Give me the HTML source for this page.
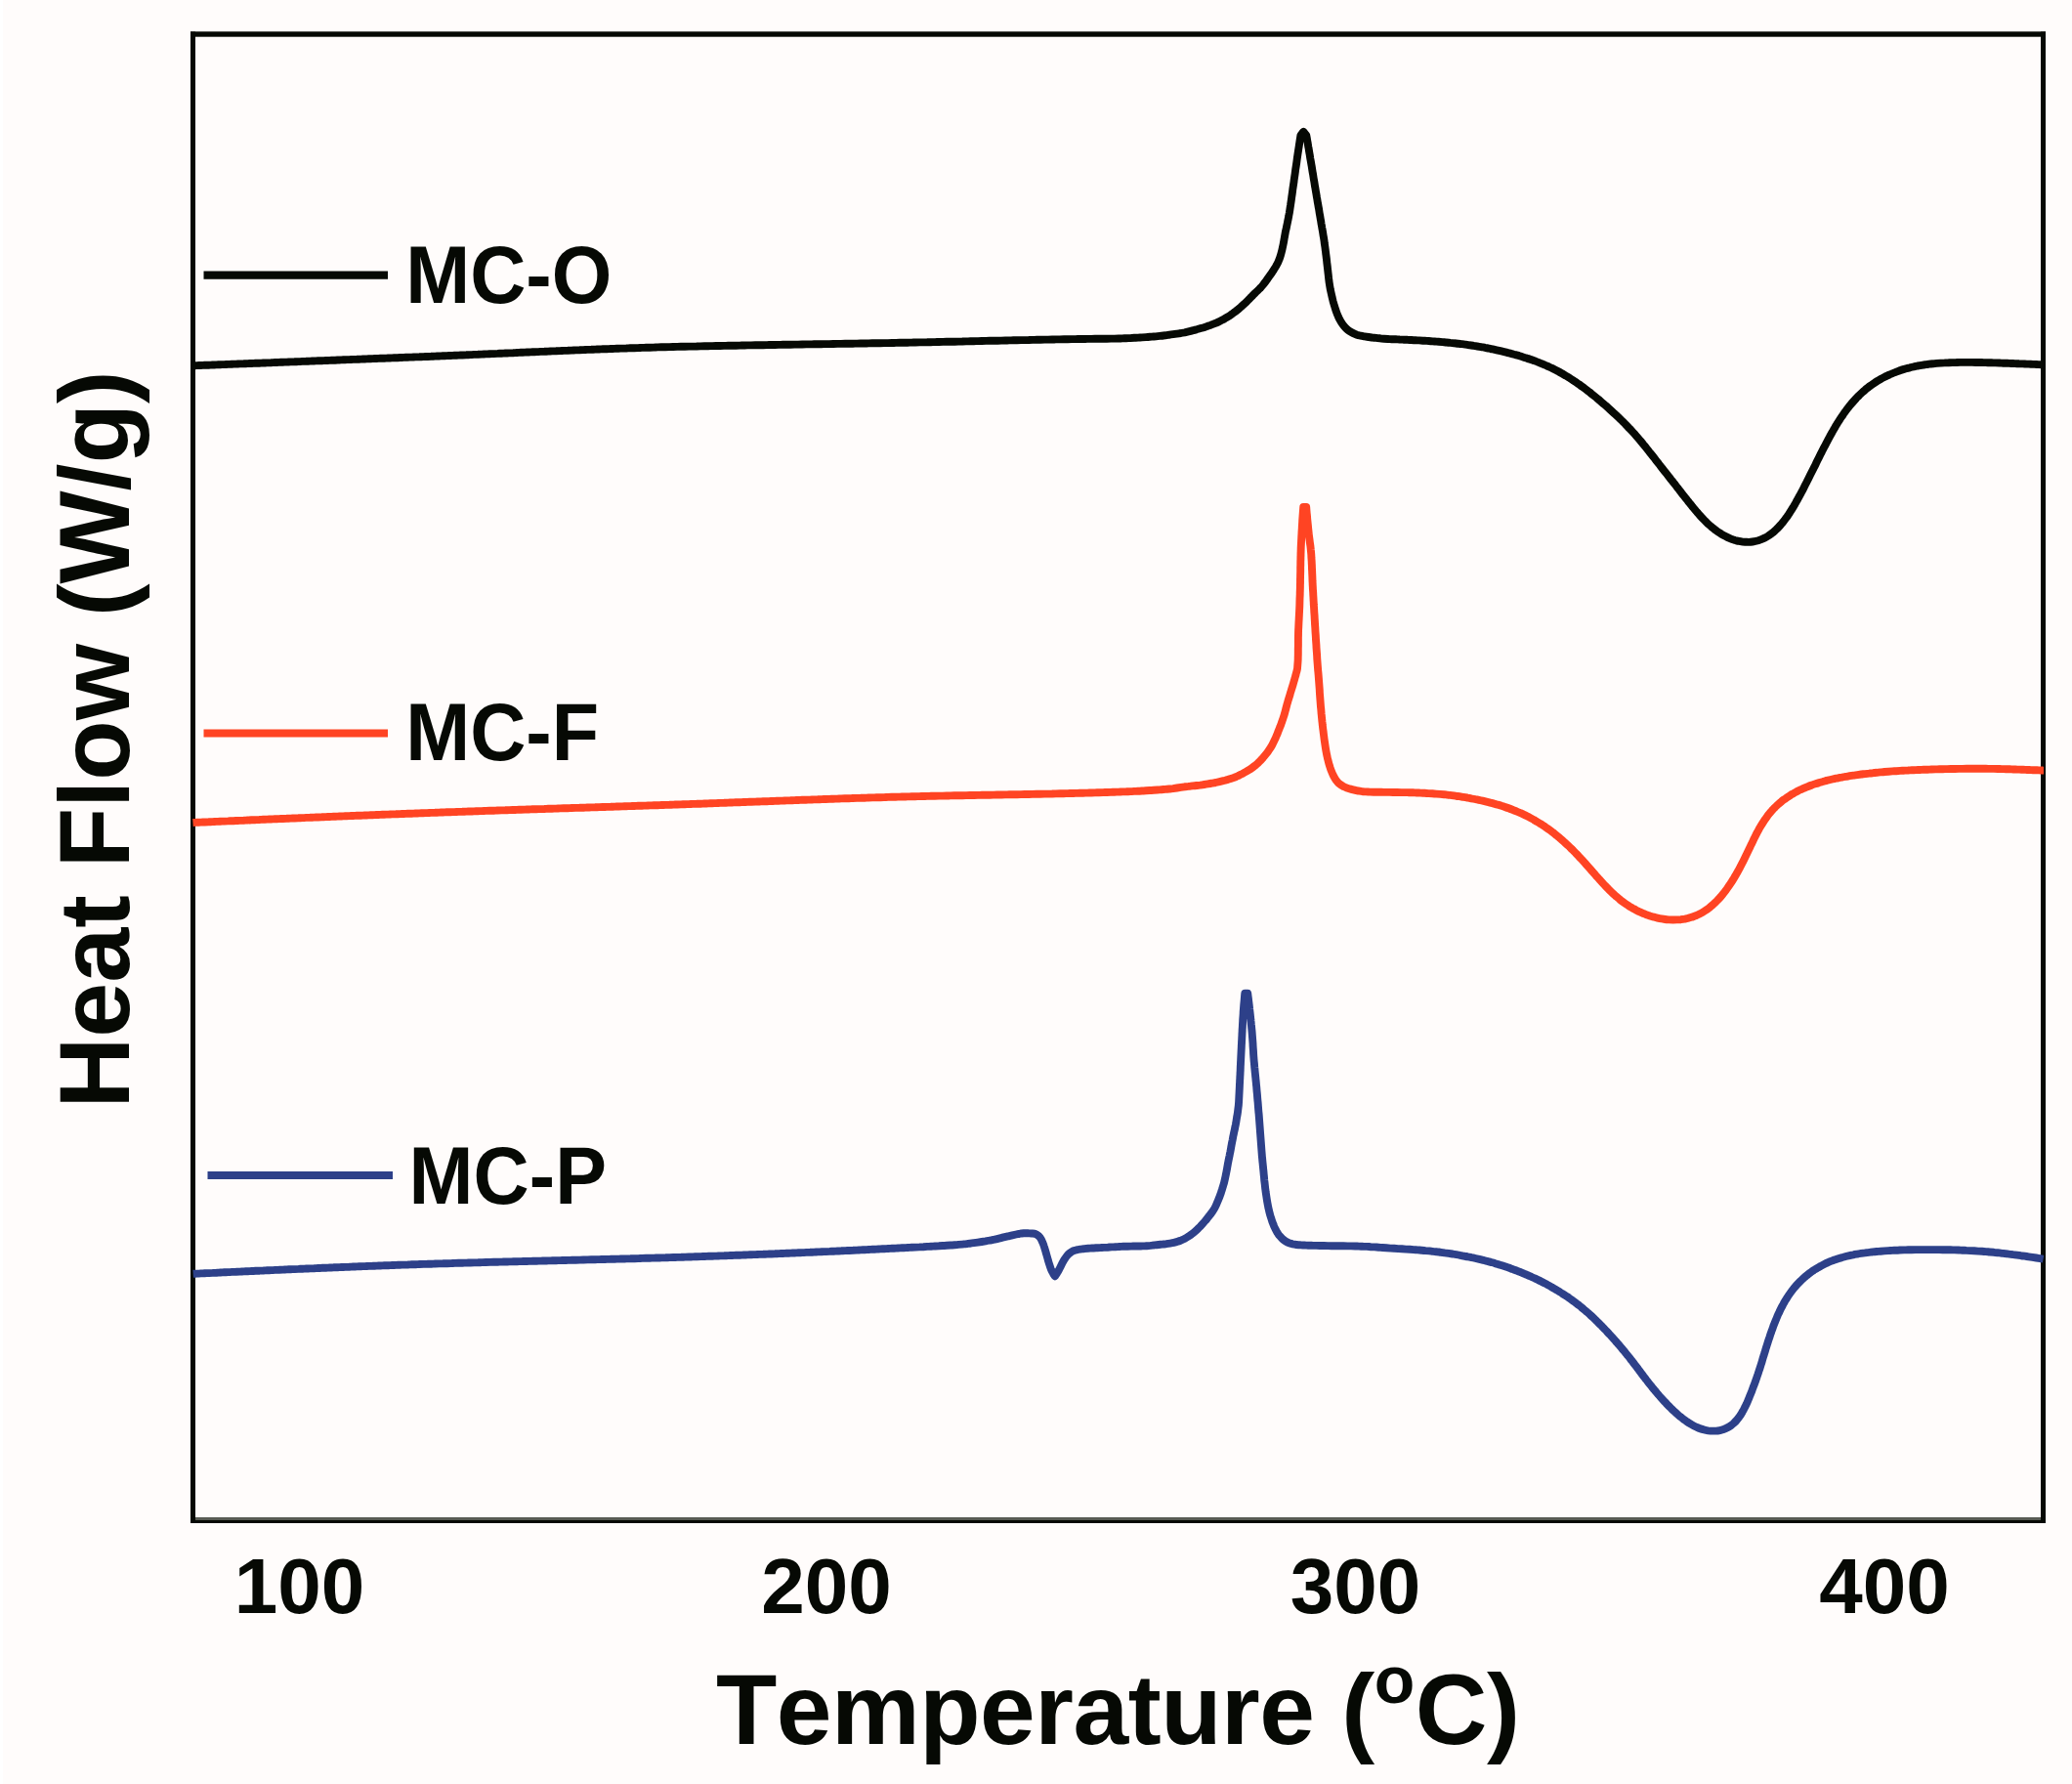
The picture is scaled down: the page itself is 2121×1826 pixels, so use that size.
<!DOCTYPE html>
<html lang="en">
<head>
<meta charset="utf-8">
<title>DSC Heat Flow vs Temperature</title>
<style>
html,body{margin:0;padding:0;background:#fffcfb;}
body{width:2121px;height:1826px;overflow:hidden;position:relative;}
svg{display:block;position:absolute;left:0;top:0;}
text{font-family:'Liberation Sans', Arial, Helvetica, sans-serif;font-weight:bold;fill:#060904;font-kerning:none;}
.t78{font-size:80px;}
.t102{font-size:102px;}
</style>
</head>
<body>
<svg width="2121" height="1826" viewBox="0 0 2121 1826">
<rect x="0" y="0" width="2121" height="1826" fill="#fffcfb"/>
<rect x="0" y="0" width="3" height="1826" fill="#ffffff"/>
<!-- frame -->
<g fill="#060904">
<rect x="195" y="32.3" width="1899" height="5.4"/>
<rect x="195" y="32.5" width="5" height="1526.5"/>
<rect x="2089" y="32.5" width="5" height="1526.5"/>
<rect x="195" y="1556" width="1899" height="3"/>
</g>
<rect x="200" y="1553" width="1889" height="3" fill="#585b53"/>
<!-- curves -->
<g fill="none" stroke-width="7.9" stroke-linejoin="round" stroke-linecap="butt">
<path stroke="#060904" d="M197.5 374.3 C198.8 374.2 200.2 374.2 201.5 374.1 C202.8 374.1 204.2 374.0 205.5 374.0 C206.8 373.9 208.2 373.9 209.5 373.8 C210.8 373.8 212.2 373.7 213.5 373.7 C214.8 373.6 216.2 373.6 217.5 373.5 C218.8 373.5 220.1 373.4 221.5 373.4 C222.8 373.3 224.1 373.3 225.5 373.2 C226.8 373.2 228.1 373.1 229.5 373.1 C230.8 373.0 232.1 373.0 233.5 372.9 C234.8 372.9 236.1 372.8 237.5 372.7 C238.8 372.7 240.1 372.6 241.5 372.6 C242.8 372.5 244.1 372.5 245.5 372.4 C246.8 372.4 248.1 372.3 249.5 372.3 C250.8 372.2 252.1 372.2 253.5 372.1 C254.8 372.1 256.1 372.0 257.5 372.0 C258.8 371.9 260.1 371.9 261.5 371.8 C262.8 371.8 264.1 371.7 265.4 371.7 C266.8 371.6 268.1 371.6 269.4 371.5 C270.8 371.5 272.1 371.4 273.4 371.4 C274.8 371.3 276.1 371.2 277.4 371.2 C278.8 371.1 280.1 371.1 281.4 371.0 C282.8 371.0 284.1 370.9 285.4 370.9 C286.8 370.8 288.1 370.8 289.4 370.7 C290.8 370.7 292.1 370.6 293.4 370.6 C294.8 370.5 296.1 370.5 297.4 370.4 C298.8 370.4 300.1 370.3 301.4 370.3 C302.8 370.2 304.1 370.2 305.4 370.1 C306.8 370.1 308.1 370.0 309.4 369.9 C310.7 369.9 312.1 369.8 313.4 369.8 C314.7 369.7 316.1 369.7 317.4 369.6 C318.7 369.6 320.1 369.5 321.4 369.5 C322.7 369.4 324.1 369.4 325.4 369.3 C326.7 369.3 328.1 369.2 329.4 369.2 C330.7 369.1 332.1 369.1 333.4 369.0 C334.7 369.0 336.1 368.9 337.4 368.9 C338.7 368.8 340.1 368.8 341.4 368.7 C342.7 368.7 344.1 368.6 345.4 368.5 C346.7 368.5 348.1 368.4 349.4 368.4 C350.7 368.3 352.0 368.3 353.4 368.2 C354.7 368.2 356.0 368.1 357.4 368.1 C358.7 368.0 360.0 368.0 361.4 367.9 C362.7 367.9 364.0 367.8 365.4 367.8 C366.7 367.7 368.0 367.7 369.4 367.6 C370.7 367.6 372.0 367.5 373.4 367.5 C374.7 367.4 376.0 367.4 377.4 367.3 C378.7 367.2 380.0 367.2 381.4 367.1 C382.7 367.1 384.0 367.0 385.4 367.0 C386.7 366.9 388.0 366.9 389.4 366.8 C390.7 366.8 392.0 366.7 393.4 366.7 C394.7 366.6 396.0 366.6 397.3 366.5 C398.7 366.5 400.0 366.4 401.3 366.4 C402.7 366.3 404.0 366.3 405.3 366.2 C406.7 366.2 408.0 366.1 409.3 366.0 C410.7 366.0 412.0 365.9 413.3 365.9 C414.7 365.8 416.0 365.8 417.3 365.7 C418.7 365.7 420.0 365.6 421.3 365.6 C422.7 365.5 424.0 365.5 425.3 365.4 C426.7 365.4 428.0 365.3 429.3 365.3 C430.7 365.2 432.0 365.2 433.3 365.1 C434.7 365.1 436.0 365.0 437.3 365.0 C438.7 364.9 440.0 364.8 441.3 364.8 C442.6 364.7 444.0 364.7 445.3 364.6 C446.6 364.6 448.0 364.5 449.3 364.5 C450.6 364.4 452.0 364.4 453.3 364.3 C454.6 364.2 456.0 364.2 457.3 364.1 C458.6 364.1 460.0 364.0 461.3 364.0 C462.6 363.9 464.0 363.9 465.3 363.8 C466.6 363.7 468.0 363.7 469.3 363.6 C470.6 363.6 472.0 363.5 473.3 363.5 C474.6 363.4 476.0 363.3 477.3 363.3 C478.6 363.2 479.9 363.2 481.3 363.1 C482.6 363.1 483.9 363.0 485.3 362.9 C486.6 362.9 487.9 362.8 489.3 362.8 C490.6 362.7 491.9 362.6 493.3 362.6 C494.6 362.5 495.9 362.5 497.3 362.4 C498.6 362.4 499.9 362.3 501.3 362.2 C502.6 362.2 503.9 362.1 505.3 362.1 C506.6 362.0 507.9 361.9 509.3 361.9 C510.6 361.8 511.9 361.8 513.3 361.7 C514.6 361.6 515.9 361.6 517.3 361.5 C518.6 361.5 519.9 361.4 521.2 361.4 C522.6 361.3 523.9 361.2 525.2 361.2 C526.6 361.1 527.9 361.1 529.2 361.0 C530.6 360.9 531.9 360.9 533.2 360.8 C534.6 360.8 535.9 360.7 537.2 360.6 C538.6 360.6 539.9 360.5 541.2 360.5 C542.6 360.4 543.9 360.4 545.2 360.3 C546.6 360.2 547.9 360.2 549.2 360.1 C550.6 360.1 551.9 360.0 553.2 359.9 C554.6 359.9 555.9 359.8 557.2 359.8 C558.5 359.7 559.9 359.7 561.2 359.6 C562.5 359.5 563.9 359.5 565.2 359.4 C566.5 359.4 567.9 359.3 569.2 359.3 C570.5 359.2 571.9 359.1 573.2 359.1 C574.5 359.0 575.9 359.0 577.2 358.9 C578.5 358.9 579.9 358.8 581.2 358.8 C582.5 358.7 583.9 358.6 585.2 358.6 C586.5 358.5 587.9 358.5 589.2 358.4 C590.5 358.4 591.9 358.3 593.2 358.3 C594.5 358.2 595.8 358.1 597.2 358.1 C598.5 358.0 599.8 358.0 601.2 357.9 C602.5 357.9 603.8 357.8 605.2 357.8 C606.5 357.7 607.8 357.7 609.2 357.6 C610.5 357.6 611.8 357.5 613.2 357.5 C614.5 357.4 615.8 357.4 617.2 357.3 C618.5 357.3 619.8 357.2 621.2 357.2 C622.5 357.1 623.8 357.1 625.2 357.0 C626.5 357.0 627.8 356.9 629.2 356.9 C630.5 356.8 631.8 356.8 633.2 356.7 C634.5 356.7 635.8 356.6 637.2 356.6 C638.5 356.5 639.8 356.5 641.1 356.5 C642.5 356.4 643.8 356.4 645.1 356.3 C646.5 356.3 647.8 356.2 649.1 356.2 C650.5 356.1 651.8 356.1 653.1 356.1 C654.5 356.0 655.8 356.0 657.1 355.9 C658.5 355.9 659.8 355.8 661.1 355.8 C662.5 355.8 663.8 355.7 665.1 355.7 C666.5 355.6 667.8 355.6 669.1 355.6 C670.5 355.5 671.8 355.5 673.1 355.4 C674.5 355.4 675.8 355.4 677.1 355.3 C678.5 355.3 679.8 355.3 681.1 355.2 C682.5 355.2 683.8 355.2 685.1 355.1 C686.5 355.1 687.8 355.1 689.1 355.0 C690.5 355.0 691.8 355.0 693.1 354.9 C694.5 354.9 695.8 354.9 697.1 354.8 C698.5 354.8 699.8 354.8 701.1 354.7 C702.4 354.7 703.8 354.7 705.1 354.6 C706.4 354.6 707.8 354.6 709.1 354.6 C710.4 354.5 711.8 354.5 713.1 354.5 C714.4 354.4 715.8 354.4 717.1 354.4 C718.4 354.3 719.8 354.3 721.1 354.3 C722.4 354.3 723.8 354.2 725.1 354.2 C726.4 354.2 727.8 354.1 729.1 354.1 C730.4 354.1 731.8 354.1 733.1 354.0 C734.4 354.0 735.8 354.0 737.1 354.0 C738.4 353.9 739.8 353.9 741.1 353.9 C742.4 353.9 743.8 353.8 745.1 353.8 C746.4 353.8 747.8 353.8 749.1 353.7 C750.4 353.7 751.8 353.7 753.1 353.7 C754.4 353.6 755.8 353.6 757.1 353.6 C758.4 353.6 759.8 353.5 761.1 353.5 C762.4 353.5 763.8 353.5 765.1 353.4 C766.4 353.4 767.8 353.4 769.1 353.4 C770.4 353.3 771.8 353.3 773.1 353.3 C774.4 353.3 775.8 353.2 777.1 353.2 C778.4 353.2 779.8 353.2 781.1 353.2 C782.4 353.1 783.8 353.1 785.1 353.1 C786.4 353.1 787.8 353.0 789.1 353.0 C790.4 353.0 791.8 353.0 793.1 353.0 C794.4 352.9 795.8 352.9 797.1 352.9 C798.4 352.9 799.8 352.8 801.1 352.8 C802.4 352.8 803.8 352.8 805.1 352.8 C806.4 352.7 807.8 352.7 809.1 352.7 C810.4 352.7 811.8 352.7 813.1 352.6 C814.4 352.6 815.8 352.6 817.1 352.6 C818.4 352.5 819.8 352.5 821.1 352.5 C822.4 352.5 823.8 352.5 825.1 352.4 C826.4 352.4 827.8 352.4 829.1 352.4 C830.4 352.4 831.8 352.3 833.1 352.3 C834.4 352.3 835.8 352.3 837.1 352.3 C838.4 352.2 839.8 352.2 841.1 352.2 C842.4 352.2 843.8 352.1 845.1 352.1 C846.4 352.1 847.8 352.1 849.1 352.1 C850.4 352.0 851.8 352.0 853.1 352.0 C854.4 352.0 855.8 352.0 857.1 351.9 C858.4 351.9 859.8 351.9 861.1 351.9 C862.4 351.8 863.8 351.8 865.1 351.8 C866.4 351.8 867.8 351.8 869.1 351.7 C870.4 351.7 871.8 351.7 873.1 351.7 C874.4 351.7 875.8 351.6 877.1 351.6 C878.4 351.6 879.8 351.6 881.1 351.5 C882.4 351.5 883.8 351.5 885.1 351.5 C886.4 351.5 887.8 351.4 889.1 351.4 C890.4 351.4 891.8 351.4 893.1 351.3 C894.4 351.3 895.8 351.3 897.1 351.3 C898.4 351.2 899.8 351.2 901.1 351.2 C902.4 351.2 903.8 351.2 905.1 351.1 C906.4 351.1 907.8 351.1 909.1 351.1 C910.4 351.0 911.8 351.0 913.1 351.0 C914.4 351.0 915.8 350.9 917.1 350.9 C918.4 350.9 919.8 350.9 921.1 350.8 C922.4 350.8 923.8 350.8 925.1 350.8 C926.4 350.7 927.7 350.7 929.1 350.7 C930.4 350.7 931.7 350.6 933.1 350.6 C934.4 350.6 935.7 350.5 937.1 350.5 C938.4 350.5 939.7 350.5 941.1 350.4 C942.4 350.4 943.7 350.4 945.1 350.4 C946.4 350.3 947.7 350.3 949.1 350.3 C950.4 350.2 951.7 350.2 953.1 350.2 C954.4 350.2 955.7 350.1 957.1 350.1 C958.4 350.1 959.7 350.0 961.1 350.0 C962.4 350.0 963.7 350.0 965.1 349.9 C966.4 349.9 967.7 349.9 969.1 349.8 C970.4 349.8 971.7 349.8 973.1 349.7 C974.4 349.7 975.7 349.7 977.1 349.7 C978.4 349.6 979.7 349.6 981.1 349.6 C982.4 349.5 983.7 349.5 985.1 349.5 C986.4 349.4 987.7 349.4 989.1 349.4 C990.4 349.4 991.7 349.3 993.1 349.3 C994.4 349.3 995.7 349.2 997.1 349.2 C998.4 349.2 999.7 349.1 1001.1 349.1 C1002.4 349.1 1003.7 349.1 1005.1 349.0 C1006.4 349.0 1007.7 349.0 1009.1 348.9 C1010.4 348.9 1011.7 348.9 1013.1 348.8 C1014.4 348.8 1015.7 348.8 1017.1 348.8 C1018.4 348.7 1019.7 348.7 1021.1 348.7 C1022.4 348.6 1023.7 348.6 1025.1 348.6 C1026.4 348.5 1027.7 348.5 1029.1 348.5 C1030.4 348.5 1031.7 348.4 1033.1 348.4 C1034.4 348.4 1035.7 348.3 1037.1 348.3 C1038.4 348.3 1039.7 348.2 1041.1 348.2 C1042.4 348.2 1043.7 348.2 1045.1 348.1 C1046.4 348.1 1047.7 348.1 1049.1 348.1 C1050.4 348.0 1051.7 348.0 1053.1 348.0 C1054.4 347.9 1055.7 347.9 1057.1 347.9 C1058.4 347.9 1059.7 347.8 1061.1 347.8 C1062.4 347.8 1063.7 347.8 1065.1 347.7 C1066.4 347.7 1067.7 347.7 1069.1 347.6 C1070.4 347.6 1071.7 347.6 1073.0 347.6 C1074.4 347.5 1075.7 347.5 1077.0 347.5 C1078.4 347.5 1079.7 347.4 1081.0 347.4 C1082.4 347.4 1083.7 347.4 1085.0 347.4 C1086.4 347.3 1087.7 347.3 1089.0 347.3 C1090.4 347.3 1091.7 347.2 1093.0 347.2 C1094.4 347.2 1095.7 347.2 1097.0 347.1 C1098.4 347.1 1099.7 347.1 1101.0 347.1 C1102.4 347.1 1103.7 347.0 1105.0 347.0 C1106.4 347.0 1107.7 347.0 1109.0 347.0 C1110.4 347.0 1111.7 346.9 1113.0 346.9 C1114.4 346.9 1115.7 346.9 1117.0 346.9 C1118.4 346.9 1119.7 346.9 1121.0 346.8 C1122.4 346.8 1123.7 346.8 1125.0 346.8 C1126.4 346.8 1127.7 346.8 1129.0 346.8 C1130.4 346.7 1131.7 346.7 1133.0 346.7 C1134.4 346.7 1135.7 346.7 1137.0 346.6 C1138.4 346.6 1139.7 346.6 1141.0 346.6 C1142.4 346.5 1143.7 346.5 1145.0 346.5 C1146.4 346.5 1147.7 346.4 1149.0 346.4 C1150.4 346.3 1151.7 346.3 1153.0 346.2 C1154.4 346.2 1155.7 346.1 1157.0 346.1 C1158.4 346.0 1159.7 345.9 1161.0 345.8 C1162.4 345.8 1163.7 345.7 1165.0 345.6 C1166.4 345.5 1167.7 345.5 1169.0 345.4 C1170.4 345.3 1171.7 345.2 1173.0 345.1 C1174.3 345.0 1175.7 344.9 1177.0 344.8 C1178.3 344.7 1179.7 344.6 1181.0 344.5 C1182.3 344.4 1183.6 344.3 1185.0 344.1 C1186.3 344.0 1187.6 343.9 1189.0 343.7 C1190.3 343.6 1191.6 343.4 1192.9 343.3 C1194.3 343.1 1195.6 342.9 1196.9 342.7 C1198.2 342.6 1199.6 342.4 1200.9 342.2 C1202.2 342.0 1203.5 341.8 1204.8 341.6 C1206.1 341.4 1207.5 341.2 1208.8 341.0 C1210.1 340.7 1211.4 340.5 1212.7 340.3 C1214.0 340.0 1215.3 339.7 1216.6 339.4 C1217.9 339.1 1219.2 338.8 1220.5 338.4 C1221.8 338.1 1223.1 337.8 1224.4 337.4 C1225.6 337.0 1226.9 336.7 1228.2 336.3 C1229.5 335.9 1230.8 335.6 1232.1 335.2 C1233.3 334.8 1234.6 334.4 1235.9 333.9 C1237.1 333.5 1238.4 333.1 1239.7 332.6 C1240.9 332.2 1242.2 331.7 1243.4 331.2 C1244.6 330.7 1245.8 330.2 1247.0 329.6 C1248.2 329.0 1249.4 328.4 1250.6 327.8 C1251.8 327.2 1253.0 326.5 1254.1 325.8 C1255.3 325.2 1256.4 324.5 1257.5 323.8 C1258.7 323.1 1259.8 322.3 1260.9 321.6 C1262.0 320.8 1263.1 320.0 1264.1 319.2 C1265.2 318.4 1266.2 317.6 1267.3 316.8 C1268.3 315.9 1269.3 315.0 1270.3 314.1 C1271.3 313.3 1272.3 312.4 1273.3 311.4 C1274.2 310.5 1275.2 309.6 1276.2 308.7 C1277.1 307.8 1278.1 306.8 1279.0 305.9 C1279.9 304.9 1280.8 303.9 1281.8 303.0 C1282.7 302.0 1283.6 301.1 1284.6 300.1 C1285.5 299.2 1286.5 298.3 1287.5 297.4 C1288.4 296.4 1289.4 295.5 1290.3 294.6 C1291.2 293.6 1292.1 292.6 1292.9 291.6 C1293.8 290.5 1294.6 289.5 1295.4 288.4 C1296.2 287.3 1296.9 286.2 1297.7 285.1 C1298.5 284.0 1299.3 283.0 1300.0 281.9 C1300.8 280.8 1301.6 279.7 1302.3 278.6 C1303.1 277.5 1303.8 276.3 1304.5 275.2 C1305.2 274.1 1305.9 272.9 1306.5 271.8 C1307.2 270.6 1307.8 269.4 1308.4 268.2 C1308.9 267.0 1309.4 265.8 1309.9 264.5 C1310.3 263.3 1310.7 262.0 1311.1 260.7 C1311.5 259.4 1311.8 258.1 1312.1 256.8 C1312.5 255.5 1312.7 254.2 1313.0 252.9 C1313.3 251.6 1313.6 250.3 1313.8 249.0 C1314.1 247.7 1314.3 246.4 1314.5 245.1 C1314.7 243.8 1315.0 242.4 1315.2 241.1 C1315.4 239.8 1315.7 238.5 1315.9 237.2 C1316.2 235.9 1316.5 234.6 1316.8 233.3 C1317.0 232.0 1317.3 230.7 1317.6 229.4 C1317.9 228.1 1318.1 226.8 1318.4 225.4 C1318.7 224.1 1318.9 222.8 1319.2 221.5 C1319.4 220.2 1319.6 218.9 1319.9 217.6 C1320.1 216.3 1320.3 215.0 1320.5 213.6 C1320.7 212.3 1320.9 211.0 1321.1 209.7 C1321.3 208.4 1321.5 207.1 1321.7 205.7 C1321.9 204.4 1322.1 203.1 1322.2 201.8 C1322.4 200.4 1322.6 199.1 1322.8 197.8 C1323.0 196.5 1323.2 195.2 1323.3 193.8 C1323.5 192.5 1323.7 191.2 1323.9 189.9 C1324.1 188.6 1324.3 187.2 1324.5 185.9 C1324.6 184.6 1324.8 183.3 1325.0 182.0 C1325.2 180.6 1325.4 179.3 1325.6 178.0 C1325.8 176.7 1326.0 175.4 1326.1 174.0 C1326.3 172.7 1326.5 171.4 1326.7 170.1 C1326.9 168.8 1327.1 167.4 1327.3 166.1 C1327.5 164.8 1327.6 163.5 1327.8 162.2 C1328.0 160.8 1328.2 159.5 1328.4 158.2 C1328.6 156.9 1328.8 155.6 1329.0 154.2 C1329.2 152.9 1329.4 151.6 1329.6 150.3 C1329.8 149.0 1330.0 147.6 1330.2 146.3 C1330.4 145.0 1330.6 143.7 1330.8 142.4 C1331.0 141.1 1331.2 139.9 1331.4 138.6 C1332.4 137.4 1333.3 136.1 1334.3 134.9 C1335.3 136.1 1336.3 137.4 1337.3 138.6 C1337.5 139.9 1337.8 141.2 1338.0 142.5 C1338.2 143.9 1338.4 145.2 1338.7 146.5 C1338.9 147.8 1339.1 149.1 1339.3 150.4 C1339.6 151.7 1339.8 153.1 1340.0 154.4 C1340.2 155.7 1340.4 157.0 1340.7 158.3 C1340.9 159.6 1341.1 160.9 1341.3 162.3 C1341.6 163.6 1341.8 164.9 1342.0 166.2 C1342.2 167.5 1342.4 168.8 1342.7 170.1 C1342.9 171.5 1343.1 172.8 1343.3 174.1 C1343.5 175.4 1343.7 176.7 1344.0 178.0 C1344.2 179.4 1344.4 180.7 1344.6 182.0 C1344.8 183.3 1345.1 184.6 1345.3 185.9 C1345.5 187.2 1345.7 188.6 1345.9 189.9 C1346.1 191.2 1346.4 192.5 1346.6 193.8 C1346.8 195.1 1347.0 196.5 1347.3 197.8 C1347.5 199.1 1347.7 200.4 1347.9 201.7 C1348.2 203.0 1348.4 204.3 1348.6 205.7 C1348.8 207.0 1349.1 208.3 1349.3 209.6 C1349.5 210.9 1349.7 212.2 1350.0 213.5 C1350.2 214.9 1350.4 216.2 1350.6 217.5 C1350.8 218.8 1351.1 220.1 1351.3 221.4 C1351.5 222.7 1351.7 224.1 1352.0 225.4 C1352.2 226.7 1352.4 228.0 1352.6 229.3 C1352.9 230.6 1353.1 231.9 1353.3 233.3 C1353.6 234.6 1353.8 235.9 1354.0 237.2 C1354.2 238.5 1354.4 239.8 1354.6 241.1 C1354.9 242.5 1355.1 243.8 1355.3 245.1 C1355.5 246.4 1355.7 247.7 1355.8 249.1 C1356.0 250.4 1356.2 251.7 1356.4 253.0 C1356.6 254.3 1356.7 255.7 1356.9 257.0 C1357.1 258.3 1357.2 259.6 1357.4 261.0 C1357.6 262.3 1357.7 263.6 1357.9 264.9 C1358.0 266.2 1358.2 267.6 1358.3 268.9 C1358.5 270.2 1358.6 271.5 1358.8 272.9 C1358.9 274.2 1359.1 275.5 1359.2 276.8 C1359.4 278.2 1359.5 279.5 1359.7 280.8 C1359.8 282.2 1360.0 283.5 1360.1 284.8 C1360.3 286.1 1360.4 287.5 1360.6 288.8 C1360.8 290.1 1361.0 291.4 1361.2 292.7 C1361.4 294.0 1361.7 295.3 1361.9 296.7 C1362.2 298.0 1362.5 299.3 1362.8 300.6 C1363.1 301.9 1363.4 303.2 1363.7 304.5 C1364.0 305.8 1364.3 307.1 1364.6 308.4 C1365.0 309.6 1365.3 310.9 1365.7 312.2 C1366.1 313.5 1366.5 314.8 1366.9 316.0 C1367.3 317.3 1367.7 318.6 1368.2 319.8 C1368.7 321.1 1369.2 322.3 1369.7 323.5 C1370.2 324.8 1370.8 326.0 1371.4 327.1 C1372.1 328.3 1372.7 329.5 1373.5 330.6 C1374.2 331.7 1375.0 332.8 1375.8 333.8 C1376.7 334.9 1377.6 335.8 1378.6 336.7 C1379.6 337.6 1380.7 338.4 1381.8 339.2 C1382.9 339.9 1384.1 340.5 1385.3 341.1 C1386.5 341.7 1387.7 342.2 1389.0 342.7 C1390.3 343.1 1391.6 343.4 1392.8 343.7 C1394.1 344.0 1395.5 344.2 1396.8 344.4 C1398.1 344.6 1399.4 344.8 1400.8 345.0 C1402.1 345.2 1403.4 345.3 1404.7 345.5 C1406.1 345.6 1407.4 345.8 1408.7 345.9 C1410.0 346.1 1411.4 346.2 1412.7 346.3 C1414.0 346.5 1415.3 346.6 1416.7 346.7 C1418.0 346.8 1419.3 346.9 1420.7 347.0 C1422.0 347.1 1423.3 347.1 1424.7 347.2 C1426.0 347.2 1427.3 347.3 1428.7 347.3 C1430.0 347.4 1431.3 347.4 1432.7 347.5 C1434.0 347.5 1435.3 347.6 1436.7 347.7 C1438.0 347.7 1439.3 347.8 1440.6 347.8 C1442.0 347.9 1443.3 348.0 1444.6 348.0 C1446.0 348.1 1447.3 348.2 1448.6 348.2 C1450.0 348.3 1451.3 348.4 1452.6 348.4 C1454.0 348.5 1455.3 348.6 1456.6 348.7 C1458.0 348.8 1459.3 348.8 1460.6 348.9 C1461.9 349.0 1463.3 349.1 1464.6 349.2 C1465.9 349.3 1467.3 349.4 1468.6 349.5 C1469.9 349.6 1471.3 349.7 1472.6 349.8 C1473.9 349.9 1475.2 350.0 1476.6 350.1 C1477.9 350.2 1479.2 350.4 1480.6 350.5 C1481.9 350.6 1483.2 350.7 1484.5 350.9 C1485.9 351.0 1487.2 351.1 1488.5 351.3 C1489.8 351.4 1491.2 351.6 1492.5 351.7 C1493.8 351.9 1495.1 352.0 1496.5 352.2 C1497.8 352.4 1499.1 352.5 1500.4 352.7 C1501.8 352.9 1503.1 353.1 1504.4 353.3 C1505.7 353.4 1507.0 353.6 1508.4 353.8 C1509.7 354.0 1511.0 354.3 1512.3 354.5 C1513.6 354.7 1514.9 354.9 1516.2 355.1 C1517.6 355.4 1518.9 355.6 1520.2 355.9 C1521.5 356.1 1522.8 356.4 1524.1 356.6 C1525.4 356.9 1526.7 357.2 1528.0 357.4 C1529.3 357.7 1530.6 358.0 1531.9 358.3 C1533.2 358.6 1534.5 358.9 1535.8 359.2 C1537.1 359.5 1538.4 359.8 1539.7 360.1 C1541.0 360.4 1542.3 360.7 1543.6 361.1 C1544.9 361.4 1546.2 361.7 1547.5 362.1 C1548.8 362.4 1550.1 362.8 1551.3 363.1 C1552.6 363.5 1553.9 363.8 1555.2 364.2 C1556.5 364.6 1557.7 365.0 1559.0 365.4 C1560.3 365.8 1561.6 366.2 1562.8 366.6 C1564.1 367.0 1565.4 367.4 1566.6 367.9 C1567.9 368.3 1569.1 368.7 1570.4 369.2 C1571.6 369.7 1572.9 370.1 1574.1 370.6 C1575.4 371.1 1576.6 371.6 1577.9 372.1 C1579.1 372.6 1580.3 373.1 1581.5 373.6 C1582.8 374.1 1584.0 374.7 1585.2 375.2 C1586.4 375.8 1587.6 376.4 1588.8 376.9 C1590.0 377.5 1591.2 378.1 1592.4 378.7 C1593.6 379.3 1594.8 380.0 1595.9 380.6 C1597.1 381.2 1598.3 381.9 1599.4 382.5 C1600.6 383.2 1601.7 383.9 1602.9 384.6 C1604.0 385.2 1605.2 385.9 1606.3 386.6 C1607.4 387.4 1608.5 388.1 1609.7 388.8 C1610.8 389.5 1611.9 390.3 1613.0 391.0 C1614.1 391.8 1615.2 392.5 1616.3 393.3 C1617.4 394.1 1618.4 394.9 1619.5 395.7 C1620.6 396.4 1621.7 397.2 1622.7 398.0 C1623.8 398.9 1624.8 399.7 1625.9 400.5 C1626.9 401.3 1628.0 402.1 1629.0 403.0 C1630.1 403.8 1631.1 404.6 1632.2 405.5 C1633.2 406.3 1634.2 407.1 1635.2 408.0 C1636.3 408.9 1637.3 409.7 1638.3 410.6 C1639.3 411.4 1640.3 412.3 1641.3 413.2 C1642.3 414.1 1643.4 414.9 1644.4 415.8 C1645.4 416.7 1646.4 417.6 1647.3 418.5 C1648.3 419.4 1649.3 420.3 1650.3 421.2 C1651.3 422.1 1652.3 423.0 1653.2 423.9 C1654.2 424.8 1655.2 425.7 1656.2 426.6 C1657.1 427.5 1658.1 428.5 1659.0 429.4 C1660.0 430.3 1660.9 431.3 1661.9 432.2 C1662.8 433.2 1663.7 434.1 1664.7 435.1 C1665.6 436.0 1666.5 437.0 1667.4 438.0 C1668.4 438.9 1669.3 439.9 1670.2 440.9 C1671.1 441.9 1672.0 442.9 1672.9 443.8 C1673.7 444.8 1674.6 445.8 1675.5 446.8 C1676.4 447.9 1677.2 448.9 1678.1 449.9 C1679.0 450.9 1679.8 451.9 1680.7 452.9 C1681.5 454.0 1682.4 455.0 1683.2 456.0 C1684.1 457.1 1684.9 458.1 1685.7 459.1 C1686.6 460.2 1687.4 461.2 1688.2 462.3 C1689.1 463.3 1689.9 464.4 1690.7 465.4 C1691.5 466.5 1692.3 467.5 1693.2 468.6 C1694.0 469.6 1694.8 470.7 1695.6 471.7 C1696.4 472.8 1697.3 473.8 1698.1 474.9 C1698.9 475.9 1699.7 477.0 1700.5 478.0 C1701.4 479.1 1702.2 480.1 1703.0 481.2 C1703.8 482.2 1704.7 483.3 1705.5 484.3 C1706.3 485.4 1707.1 486.4 1708.0 487.5 C1708.8 488.5 1709.6 489.5 1710.4 490.6 C1711.3 491.6 1712.1 492.7 1712.9 493.7 C1713.7 494.8 1714.6 495.8 1715.4 496.9 C1716.2 497.9 1717.0 499.0 1717.9 500.0 C1718.7 501.1 1719.5 502.1 1720.3 503.2 C1721.1 504.2 1721.9 505.3 1722.8 506.4 C1723.6 507.4 1724.4 508.5 1725.2 509.5 C1726.1 510.6 1726.9 511.6 1727.7 512.6 C1728.5 513.7 1729.4 514.7 1730.2 515.8 C1731.0 516.8 1731.9 517.9 1732.7 518.9 C1733.6 519.9 1734.4 520.9 1735.3 522.0 C1736.1 523.0 1737.0 524.0 1737.9 525.0 C1738.7 526.0 1739.6 527.0 1740.5 528.0 C1741.4 529.0 1742.3 530.0 1743.2 530.9 C1744.1 531.9 1745.1 532.9 1746.0 533.8 C1747.0 534.7 1747.9 535.7 1748.9 536.6 C1749.9 537.5 1750.9 538.4 1751.9 539.2 C1752.9 540.1 1754.0 540.9 1755.0 541.7 C1756.1 542.5 1757.1 543.3 1758.2 544.1 C1759.3 544.9 1760.5 545.6 1761.6 546.3 C1762.7 547.0 1763.9 547.7 1765.0 548.3 C1766.2 548.9 1767.4 549.5 1768.6 550.1 C1769.8 550.7 1771.1 551.2 1772.3 551.7 C1773.6 552.1 1774.8 552.6 1776.1 553.0 C1777.4 553.3 1778.7 553.7 1780.0 553.9 C1781.3 554.2 1782.6 554.4 1783.9 554.6 C1785.2 554.7 1786.6 554.8 1787.9 554.8 C1789.2 554.9 1790.6 554.9 1791.9 554.8 C1793.2 554.7 1794.6 554.5 1795.9 554.2 C1797.2 554.0 1798.5 553.7 1799.8 553.3 C1801.0 552.9 1802.3 552.4 1803.5 551.9 C1804.8 551.4 1806.0 550.8 1807.1 550.2 C1808.3 549.6 1809.5 548.9 1810.6 548.1 C1811.7 547.4 1812.8 546.6 1813.8 545.8 C1814.9 545.0 1815.9 544.1 1816.9 543.2 C1817.9 542.3 1818.8 541.4 1819.8 540.5 C1820.7 539.5 1821.6 538.5 1822.5 537.5 C1823.4 536.5 1824.2 535.5 1825.1 534.5 C1825.9 533.4 1826.7 532.4 1827.5 531.3 C1828.3 530.2 1829.1 529.2 1829.9 528.1 C1830.6 527.0 1831.4 525.9 1832.1 524.7 C1832.8 523.6 1833.5 522.5 1834.2 521.4 C1834.9 520.2 1835.6 519.1 1836.3 517.9 C1837.0 516.8 1837.6 515.6 1838.3 514.5 C1838.9 513.3 1839.6 512.1 1840.2 511.0 C1840.9 509.8 1841.5 508.6 1842.1 507.5 C1842.8 506.3 1843.4 505.1 1844.0 503.9 C1844.6 502.7 1845.2 501.6 1845.9 500.4 C1846.5 499.2 1847.1 498.0 1847.7 496.8 C1848.3 495.6 1848.9 494.4 1849.5 493.3 C1850.1 492.1 1850.7 490.9 1851.3 489.7 C1851.9 488.5 1852.5 487.3 1853.1 486.1 C1853.7 484.9 1854.3 483.7 1854.9 482.5 C1855.5 481.3 1856.1 480.1 1856.7 478.9 C1857.3 477.8 1857.9 476.6 1858.5 475.4 C1859.0 474.2 1859.6 473.0 1860.2 471.8 C1860.8 470.6 1861.4 469.4 1862.0 468.2 C1862.6 467.0 1863.2 465.8 1863.8 464.6 C1864.4 463.4 1865.0 462.3 1865.6 461.1 C1866.2 459.9 1866.8 458.7 1867.4 457.5 C1868.1 456.3 1868.7 455.1 1869.3 453.9 C1869.9 452.8 1870.5 451.6 1871.1 450.4 C1871.8 449.2 1872.4 448.1 1873.0 446.9 C1873.7 445.7 1874.3 444.5 1875.0 443.4 C1875.6 442.2 1876.3 441.1 1876.9 439.9 C1877.6 438.7 1878.3 437.6 1878.9 436.4 C1879.6 435.3 1880.3 434.2 1881.0 433.0 C1881.7 431.9 1882.4 430.8 1883.2 429.6 C1883.9 428.5 1884.6 427.4 1885.4 426.3 C1886.1 425.2 1886.9 424.1 1887.6 423.0 C1888.4 421.9 1889.2 420.9 1890.0 419.8 C1890.8 418.7 1891.6 417.7 1892.4 416.6 C1893.3 415.6 1894.1 414.5 1895.0 413.5 C1895.8 412.5 1896.7 411.5 1897.6 410.5 C1898.5 409.5 1899.4 408.5 1900.3 407.5 C1901.2 406.6 1902.1 405.6 1903.1 404.7 C1904.0 403.7 1905.0 402.8 1906.0 401.9 C1907.0 401.0 1908.0 400.1 1909.0 399.3 C1910.0 398.4 1911.0 397.6 1912.1 396.8 C1913.1 395.9 1914.2 395.1 1915.3 394.4 C1916.4 393.6 1917.5 392.8 1918.6 392.1 C1919.7 391.3 1920.8 390.6 1921.9 389.9 C1923.1 389.2 1924.2 388.5 1925.4 387.9 C1926.6 387.2 1927.7 386.6 1928.9 386.0 C1930.1 385.4 1931.3 384.8 1932.5 384.2 C1933.7 383.7 1934.9 383.1 1936.2 382.6 C1937.4 382.1 1938.6 381.6 1939.9 381.1 C1941.1 380.6 1942.4 380.1 1943.6 379.7 C1944.9 379.3 1946.1 378.8 1947.4 378.4 C1948.7 378.0 1950.0 377.7 1951.2 377.3 C1952.5 376.9 1953.8 376.6 1955.1 376.3 C1956.4 375.9 1957.7 375.6 1959.0 375.4 C1960.3 375.1 1961.6 374.8 1962.9 374.5 C1964.2 374.3 1965.5 374.1 1966.9 373.8 C1968.2 373.6 1969.5 373.4 1970.8 373.2 C1972.1 373.0 1973.5 372.9 1974.8 372.7 C1976.1 372.5 1977.4 372.4 1978.8 372.3 C1980.1 372.1 1981.4 372.0 1982.7 371.9 C1984.1 371.8 1985.4 371.7 1986.7 371.6 C1988.1 371.5 1989.4 371.4 1990.7 371.4 C1992.0 371.3 1993.4 371.2 1994.7 371.2 C1996.0 371.1 1997.4 371.1 1998.7 371.1 C2000.0 371.0 2001.4 371.0 2002.7 371.0 C2004.0 370.9 2005.4 370.9 2006.7 370.9 C2008.0 370.9 2009.4 370.9 2010.7 370.9 C2012.0 370.9 2013.4 370.9 2014.7 370.9 C2016.0 370.9 2017.4 370.9 2018.7 370.9 C2020.0 370.9 2021.4 370.9 2022.7 371.0 C2024.0 371.0 2025.4 371.0 2026.7 371.0 C2028.0 371.0 2029.4 371.1 2030.7 371.1 C2032.0 371.1 2033.4 371.2 2034.7 371.2 C2036.0 371.2 2037.4 371.3 2038.7 371.3 C2040.0 371.3 2041.4 371.4 2042.7 371.4 C2044.0 371.5 2045.4 371.5 2046.7 371.5 C2048.0 371.6 2049.4 371.6 2050.7 371.7 C2052.0 371.7 2053.4 371.8 2054.7 371.8 C2056.0 371.9 2057.4 371.9 2058.7 372.0 C2060.0 372.0 2061.4 372.1 2062.7 372.1 C2064.0 372.2 2065.4 372.2 2066.7 372.3 C2068.0 372.3 2069.4 372.4 2070.7 372.4 C2072.0 372.5 2073.4 372.5 2074.7 372.6 C2076.0 372.6 2077.3 372.7 2078.7 372.7 C2080.0 372.8 2081.3 372.9 2082.7 372.9 C2084.0 373.0 2085.3 373.0 2086.7 373.1 C2088.0 373.1 2089.3 373.2 2090.7 373.3 C2090.9 373.3 2091.2 373.3 2091.5 373.3"/>
<path stroke="#ff4423" d="M197.5 842.0 C198.8 841.9 200.2 841.9 201.5 841.8 C202.8 841.8 204.2 841.7 205.5 841.6 C206.8 841.6 208.2 841.5 209.5 841.5 C210.8 841.4 212.2 841.3 213.5 841.3 C214.8 841.2 216.1 841.2 217.5 841.1 C218.8 841.0 220.1 841.0 221.5 840.9 C222.8 840.9 224.1 840.8 225.5 840.7 C226.8 840.7 228.1 840.6 229.5 840.6 C230.8 840.5 232.1 840.4 233.5 840.4 C234.8 840.3 236.1 840.3 237.5 840.2 C238.8 840.2 240.1 840.1 241.5 840.0 C242.8 840.0 244.1 839.9 245.5 839.9 C246.8 839.8 248.1 839.7 249.4 839.7 C250.8 839.6 252.1 839.6 253.4 839.5 C254.8 839.5 256.1 839.4 257.4 839.3 C258.8 839.3 260.1 839.2 261.4 839.2 C262.8 839.1 264.1 839.0 265.4 839.0 C266.8 838.9 268.1 838.9 269.4 838.8 C270.8 838.8 272.1 838.7 273.4 838.6 C274.8 838.6 276.1 838.5 277.4 838.5 C278.8 838.4 280.1 838.4 281.4 838.3 C282.8 838.2 284.1 838.2 285.4 838.1 C286.7 838.1 288.1 838.0 289.4 838.0 C290.7 837.9 292.1 837.8 293.4 837.8 C294.7 837.7 296.1 837.7 297.4 837.6 C298.7 837.6 300.1 837.5 301.4 837.5 C302.7 837.4 304.1 837.3 305.4 837.3 C306.7 837.2 308.1 837.2 309.4 837.1 C310.7 837.1 312.1 837.0 313.4 836.9 C314.7 836.9 316.1 836.8 317.4 836.8 C318.7 836.7 320.1 836.7 321.4 836.6 C322.7 836.6 324.0 836.5 325.4 836.5 C326.7 836.4 328.0 836.3 329.4 836.3 C330.7 836.2 332.0 836.2 333.4 836.1 C334.7 836.1 336.0 836.0 337.4 836.0 C338.7 835.9 340.0 835.9 341.4 835.8 C342.7 835.7 344.0 835.7 345.4 835.6 C346.7 835.6 348.0 835.5 349.4 835.5 C350.7 835.4 352.0 835.4 353.4 835.3 C354.7 835.3 356.0 835.2 357.4 835.1 C358.7 835.1 360.0 835.0 361.4 835.0 C362.7 834.9 364.0 834.9 365.3 834.8 C366.7 834.8 368.0 834.7 369.3 834.7 C370.7 834.6 372.0 834.6 373.3 834.5 C374.7 834.5 376.0 834.4 377.3 834.4 C378.7 834.3 380.0 834.3 381.3 834.2 C382.7 834.1 384.0 834.1 385.3 834.0 C386.7 834.0 388.0 833.9 389.3 833.9 C390.7 833.8 392.0 833.8 393.3 833.7 C394.7 833.7 396.0 833.6 397.3 833.6 C398.7 833.5 400.0 833.5 401.3 833.4 C402.7 833.4 404.0 833.3 405.3 833.3 C406.6 833.2 408.0 833.2 409.3 833.1 C410.6 833.1 412.0 833.0 413.3 833.0 C414.6 832.9 416.0 832.9 417.3 832.8 C418.6 832.8 420.0 832.7 421.3 832.7 C422.6 832.6 424.0 832.6 425.3 832.5 C426.6 832.5 428.0 832.4 429.3 832.4 C430.6 832.3 432.0 832.3 433.3 832.2 C434.6 832.2 436.0 832.1 437.3 832.1 C438.6 832.0 440.0 832.0 441.3 831.9 C442.6 831.9 444.0 831.8 445.3 831.8 C446.6 831.7 448.0 831.7 449.3 831.6 C450.6 831.6 452.0 831.5 453.3 831.5 C454.6 831.4 455.9 831.4 457.3 831.3 C458.6 831.3 459.9 831.2 461.3 831.2 C462.6 831.2 463.9 831.1 465.3 831.1 C466.6 831.0 467.9 831.0 469.3 830.9 C470.6 830.9 471.9 830.8 473.3 830.8 C474.6 830.7 475.9 830.7 477.3 830.6 C478.6 830.6 479.9 830.5 481.3 830.5 C482.6 830.5 483.9 830.4 485.3 830.4 C486.6 830.3 487.9 830.3 489.3 830.2 C490.6 830.2 491.9 830.1 493.3 830.1 C494.6 830.0 495.9 830.0 497.3 829.9 C498.6 829.9 499.9 829.9 501.3 829.8 C502.6 829.8 503.9 829.7 505.3 829.7 C506.6 829.6 507.9 829.6 509.2 829.5 C510.6 829.5 511.9 829.5 513.2 829.4 C514.6 829.4 515.9 829.3 517.2 829.3 C518.6 829.2 519.9 829.2 521.2 829.1 C522.6 829.1 523.9 829.1 525.2 829.0 C526.6 829.0 527.9 828.9 529.2 828.9 C530.6 828.8 531.9 828.8 533.2 828.7 C534.6 828.7 535.9 828.7 537.2 828.6 C538.6 828.6 539.9 828.5 541.2 828.5 C542.6 828.4 543.9 828.4 545.2 828.3 C546.6 828.3 547.9 828.3 549.2 828.2 C550.6 828.2 551.9 828.1 553.2 828.1 C554.6 828.0 555.9 828.0 557.2 828.0 C558.6 827.9 559.9 827.9 561.2 827.8 C562.6 827.8 563.9 827.7 565.2 827.7 C566.6 827.7 567.9 827.6 569.2 827.6 C570.5 827.5 571.9 827.5 573.2 827.4 C574.5 827.4 575.9 827.4 577.2 827.3 C578.5 827.3 579.9 827.2 581.2 827.2 C582.5 827.1 583.9 827.1 585.2 827.0 C586.5 827.0 587.9 827.0 589.2 826.9 C590.5 826.9 591.9 826.8 593.2 826.8 C594.5 826.7 595.9 826.7 597.2 826.7 C598.5 826.6 599.9 826.6 601.2 826.5 C602.5 826.5 603.9 826.4 605.2 826.4 C606.5 826.4 607.9 826.3 609.2 826.3 C610.5 826.2 611.9 826.2 613.2 826.1 C614.5 826.1 615.9 826.1 617.2 826.0 C618.5 826.0 619.9 825.9 621.2 825.9 C622.5 825.8 623.9 825.8 625.2 825.8 C626.5 825.7 627.9 825.7 629.2 825.6 C630.5 825.6 631.9 825.5 633.2 825.5 C634.5 825.4 635.8 825.4 637.2 825.4 C638.5 825.3 639.8 825.3 641.2 825.2 C642.5 825.2 643.8 825.1 645.2 825.1 C646.5 825.1 647.8 825.0 649.2 825.0 C650.5 824.9 651.8 824.9 653.2 824.8 C654.5 824.8 655.8 824.7 657.2 824.7 C658.5 824.7 659.8 824.6 661.2 824.6 C662.5 824.5 663.8 824.5 665.2 824.4 C666.5 824.4 667.8 824.3 669.2 824.3 C670.5 824.3 671.8 824.2 673.2 824.2 C674.5 824.1 675.8 824.1 677.2 824.0 C678.5 824.0 679.8 823.9 681.2 823.9 C682.5 823.9 683.8 823.8 685.2 823.8 C686.5 823.7 687.8 823.7 689.2 823.6 C690.5 823.6 691.8 823.5 693.2 823.5 C694.5 823.4 695.8 823.4 697.1 823.4 C698.5 823.3 699.8 823.3 701.1 823.2 C702.5 823.2 703.8 823.1 705.1 823.1 C706.5 823.0 707.8 823.0 709.1 822.9 C710.5 822.9 711.8 822.8 713.1 822.8 C714.5 822.7 715.8 822.7 717.1 822.7 C718.5 822.6 719.8 822.6 721.1 822.5 C722.5 822.5 723.8 822.4 725.1 822.4 C726.5 822.3 727.8 822.3 729.1 822.2 C730.5 822.2 731.8 822.1 733.1 822.1 C734.5 822.0 735.8 822.0 737.1 821.9 C738.5 821.9 739.8 821.8 741.1 821.8 C742.5 821.7 743.8 821.7 745.1 821.6 C746.5 821.6 747.8 821.5 749.1 821.5 C750.4 821.4 751.8 821.4 753.1 821.3 C754.4 821.3 755.8 821.2 757.1 821.2 C758.4 821.1 759.8 821.1 761.1 821.0 C762.4 821.0 763.8 820.9 765.1 820.9 C766.4 820.8 767.8 820.8 769.1 820.7 C770.4 820.7 771.8 820.7 773.1 820.6 C774.4 820.6 775.8 820.5 777.1 820.5 C778.4 820.4 779.8 820.4 781.1 820.3 C782.4 820.3 783.8 820.2 785.1 820.2 C786.4 820.1 787.8 820.1 789.1 820.0 C790.4 820.0 791.8 819.9 793.1 819.9 C794.4 819.8 795.8 819.8 797.1 819.7 C798.4 819.7 799.7 819.6 801.1 819.6 C802.4 819.5 803.7 819.5 805.1 819.4 C806.4 819.4 807.7 819.3 809.1 819.3 C810.4 819.2 811.7 819.2 813.1 819.1 C814.4 819.1 815.7 819.0 817.1 819.0 C818.4 818.9 819.7 818.9 821.1 818.8 C822.4 818.8 823.7 818.7 825.1 818.7 C826.4 818.7 827.7 818.6 829.1 818.6 C830.4 818.5 831.7 818.5 833.1 818.4 C834.4 818.4 835.7 818.3 837.1 818.3 C838.4 818.2 839.7 818.2 841.1 818.1 C842.4 818.1 843.7 818.0 845.1 818.0 C846.4 817.9 847.7 817.9 849.1 817.9 C850.4 817.8 851.7 817.8 853.0 817.7 C854.4 817.7 855.7 817.6 857.0 817.6 C858.4 817.5 859.7 817.5 861.0 817.4 C862.4 817.4 863.7 817.4 865.0 817.3 C866.4 817.3 867.7 817.2 869.0 817.2 C870.4 817.1 871.7 817.1 873.0 817.0 C874.4 817.0 875.7 817.0 877.0 816.9 C878.4 816.9 879.7 816.8 881.0 816.8 C882.4 816.7 883.7 816.7 885.0 816.7 C886.4 816.6 887.7 816.6 889.0 816.5 C890.4 816.5 891.7 816.5 893.0 816.4 C894.4 816.4 895.7 816.3 897.0 816.3 C898.4 816.3 899.7 816.2 901.0 816.2 C902.4 816.1 903.7 816.1 905.0 816.1 C906.4 816.0 907.7 816.0 909.0 815.9 C910.4 815.9 911.7 815.9 913.0 815.8 C914.4 815.8 915.7 815.7 917.0 815.7 C918.3 815.7 919.7 815.6 921.0 815.6 C922.3 815.6 923.7 815.5 925.0 815.5 C926.3 815.5 927.7 815.4 929.0 815.4 C930.3 815.4 931.7 815.3 933.0 815.3 C934.3 815.3 935.7 815.2 937.0 815.2 C938.3 815.2 939.7 815.1 941.0 815.1 C942.3 815.1 943.7 815.0 945.0 815.0 C946.3 815.0 947.7 814.9 949.0 814.9 C950.3 814.9 951.7 814.8 953.0 814.8 C954.3 814.8 955.7 814.8 957.0 814.7 C958.3 814.7 959.7 814.7 961.0 814.6 C962.3 814.6 963.7 814.6 965.0 814.6 C966.3 814.5 967.7 814.5 969.0 814.5 C970.3 814.5 971.7 814.4 973.0 814.4 C974.3 814.4 975.7 814.4 977.0 814.3 C978.3 814.3 979.7 814.3 981.0 814.2 C982.3 814.2 983.7 814.2 985.0 814.2 C986.3 814.1 987.7 814.1 989.0 814.1 C990.3 814.1 991.7 814.1 993.0 814.0 C994.3 814.0 995.7 814.0 997.0 814.0 C998.3 813.9 999.7 813.9 1001.0 813.9 C1002.3 813.9 1003.7 813.8 1005.0 813.8 C1006.3 813.8 1007.7 813.8 1009.0 813.7 C1010.3 813.7 1011.7 813.7 1013.0 813.7 C1014.3 813.6 1015.7 813.6 1017.0 813.6 C1018.3 813.6 1019.7 813.6 1021.0 813.5 C1022.3 813.5 1023.7 813.5 1025.0 813.5 C1026.3 813.4 1027.7 813.4 1029.0 813.4 C1030.3 813.4 1031.7 813.3 1033.0 813.3 C1034.3 813.3 1035.7 813.3 1037.0 813.2 C1038.3 813.2 1039.7 813.2 1041.0 813.2 C1042.3 813.1 1043.7 813.1 1045.0 813.1 C1046.3 813.1 1047.7 813.1 1049.0 813.0 C1050.3 813.0 1051.7 813.0 1053.0 813.0 C1054.3 812.9 1055.7 812.9 1057.0 812.9 C1058.3 812.8 1059.7 812.8 1061.0 812.8 C1062.3 812.8 1063.7 812.7 1065.0 812.7 C1066.3 812.7 1067.7 812.7 1069.0 812.6 C1070.3 812.6 1071.7 812.6 1073.0 812.6 C1074.3 812.5 1075.7 812.5 1077.0 812.5 C1078.3 812.4 1079.7 812.4 1081.0 812.4 C1082.3 812.3 1083.7 812.3 1085.0 812.3 C1086.3 812.3 1087.7 812.2 1089.0 812.2 C1090.3 812.2 1091.7 812.1 1093.0 812.1 C1094.3 812.1 1095.7 812.0 1097.0 812.0 C1098.3 812.0 1099.7 811.9 1101.0 811.9 C1102.3 811.9 1103.7 811.8 1105.0 811.8 C1106.3 811.8 1107.7 811.7 1109.0 811.7 C1110.3 811.7 1111.7 811.6 1113.0 811.6 C1114.3 811.6 1115.7 811.5 1117.0 811.5 C1118.3 811.4 1119.7 811.4 1121.0 811.4 C1122.3 811.3 1123.6 811.3 1125.0 811.2 C1126.3 811.2 1127.6 811.2 1129.0 811.1 C1130.3 811.1 1131.6 811.0 1133.0 811.0 C1134.3 810.9 1135.6 810.9 1137.0 810.9 C1138.3 810.8 1139.6 810.8 1141.0 810.7 C1142.3 810.7 1143.6 810.6 1145.0 810.6 C1146.3 810.5 1147.6 810.5 1149.0 810.4 C1150.3 810.4 1151.6 810.3 1153.0 810.3 C1154.3 810.2 1155.6 810.2 1156.9 810.1 C1158.3 810.1 1159.6 810.0 1160.9 809.9 C1162.3 809.9 1163.6 809.8 1164.9 809.7 C1166.3 809.7 1167.6 809.6 1168.9 809.5 C1170.3 809.5 1171.6 809.4 1172.9 809.3 C1174.3 809.2 1175.6 809.1 1176.9 809.0 C1178.3 809.0 1179.6 808.9 1180.9 808.8 C1182.3 808.7 1183.6 808.6 1184.9 808.5 C1186.2 808.4 1187.6 808.3 1188.9 808.2 C1190.2 808.1 1191.6 808.0 1192.9 807.9 C1194.2 807.7 1195.5 807.6 1196.9 807.5 C1198.2 807.4 1199.5 807.2 1200.8 807.1 C1202.2 806.9 1203.5 806.7 1204.8 806.5 C1206.1 806.3 1207.4 806.1 1208.8 805.9 C1210.1 805.7 1211.4 805.5 1212.7 805.3 C1214.0 805.2 1215.4 805.0 1216.7 804.9 C1218.0 804.7 1219.3 804.6 1220.7 804.4 C1222.0 804.3 1223.3 804.2 1224.7 804.0 C1226.0 803.9 1227.3 803.7 1228.6 803.6 C1229.9 803.4 1231.3 803.2 1232.6 803.0 C1233.9 802.8 1235.2 802.6 1236.5 802.4 C1237.9 802.2 1239.2 802.0 1240.5 801.7 C1241.8 801.5 1243.1 801.2 1244.4 801.0 C1245.7 800.7 1247.0 800.4 1248.3 800.1 C1249.6 799.8 1250.9 799.5 1252.2 799.2 C1253.5 798.9 1254.8 798.5 1256.1 798.2 C1257.4 797.8 1258.6 797.4 1259.9 797.0 C1261.2 796.6 1262.4 796.1 1263.7 795.7 C1264.9 795.2 1266.1 794.6 1267.4 794.1 C1268.6 793.5 1269.8 792.9 1271.0 792.3 C1272.1 791.7 1273.3 791.1 1274.5 790.4 C1275.6 789.8 1276.8 789.1 1277.9 788.4 C1279.1 787.7 1280.2 787.0 1281.3 786.2 C1282.4 785.4 1283.4 784.6 1284.5 783.8 C1285.5 783.0 1286.6 782.1 1287.5 781.2 C1288.5 780.3 1289.5 779.4 1290.4 778.4 C1291.3 777.5 1292.2 776.4 1293.1 775.4 C1293.9 774.4 1294.8 773.4 1295.6 772.3 C1296.4 771.3 1297.3 770.2 1298.0 769.2 C1298.8 768.1 1299.6 767.0 1300.3 765.8 C1301.0 764.7 1301.6 763.6 1302.3 762.4 C1302.9 761.2 1303.5 760.0 1304.1 758.8 C1304.7 757.6 1305.3 756.4 1305.8 755.2 C1306.3 754.0 1306.8 752.7 1307.4 751.5 C1307.9 750.3 1308.3 749.0 1308.8 747.8 C1309.3 746.6 1309.8 745.3 1310.3 744.1 C1310.8 742.8 1311.3 741.6 1311.7 740.3 C1312.2 739.1 1312.6 737.8 1313.0 736.6 C1313.5 735.3 1313.9 734.0 1314.3 732.7 C1314.7 731.5 1315.0 730.2 1315.4 728.9 C1315.7 727.6 1316.1 726.3 1316.4 725.0 C1316.7 723.7 1317.1 722.5 1317.4 721.2 C1317.8 719.9 1318.2 718.6 1318.5 717.3 C1318.9 716.1 1319.3 714.8 1319.7 713.5 C1320.1 712.2 1320.5 710.9 1320.8 709.7 C1321.2 708.4 1321.6 707.1 1322.0 705.8 C1322.4 704.6 1322.8 703.3 1323.2 702.0 C1323.6 700.7 1324.0 699.5 1324.3 698.2 C1324.7 696.9 1325.1 695.6 1325.4 694.3 C1325.8 693.1 1326.1 691.8 1326.5 690.5 C1326.8 689.2 1327.2 687.9 1327.5 686.6 C1327.7 685.9 1327.8 685.2 1328.0 684.5 C1328.1 683.2 1328.2 681.8 1328.3 680.5 C1328.4 679.2 1328.5 677.9 1328.6 676.5 C1328.7 675.2 1328.7 673.9 1328.7 672.5 C1328.8 671.2 1328.8 669.9 1328.8 668.5 C1328.8 667.2 1328.8 665.9 1328.8 664.5 C1328.8 663.2 1328.9 661.9 1328.9 660.5 C1328.9 659.2 1328.9 657.9 1328.9 656.5 C1328.9 655.2 1328.9 653.9 1328.9 652.5 C1329.0 651.2 1329.0 649.9 1329.0 648.5 C1329.0 647.2 1329.1 645.9 1329.1 644.5 C1329.2 643.2 1329.3 641.9 1329.3 640.5 C1329.4 639.2 1329.4 637.9 1329.5 636.5 C1329.6 635.2 1329.7 633.9 1329.7 632.5 C1329.8 631.2 1329.9 629.9 1329.9 628.5 C1330.0 627.2 1330.1 625.9 1330.1 624.5 C1330.2 623.2 1330.2 621.9 1330.3 620.6 C1330.3 619.2 1330.4 617.9 1330.4 616.6 C1330.4 615.2 1330.5 613.9 1330.5 612.6 C1330.6 611.2 1330.6 609.9 1330.7 608.6 C1330.7 607.2 1330.7 605.9 1330.8 604.6 C1330.8 603.2 1330.9 601.9 1330.9 600.6 C1330.9 599.2 1330.9 597.9 1331.0 596.6 C1331.0 595.2 1331.0 593.9 1331.0 592.6 C1331.1 591.2 1331.1 589.9 1331.1 588.6 C1331.1 587.2 1331.2 585.9 1331.2 584.6 C1331.2 583.2 1331.2 581.9 1331.2 580.6 C1331.3 579.2 1331.3 577.9 1331.3 576.6 C1331.3 575.2 1331.3 573.9 1331.4 572.6 C1331.4 571.2 1331.4 569.9 1331.5 568.6 C1331.5 567.2 1331.5 565.9 1331.6 564.6 C1331.6 563.2 1331.7 561.9 1331.7 560.6 C1331.8 559.2 1331.8 557.9 1331.9 556.6 C1332.0 555.2 1332.0 553.9 1332.1 552.6 C1332.2 551.2 1332.2 549.9 1332.3 548.6 C1332.4 547.3 1332.5 545.9 1332.5 544.6 C1332.6 543.3 1332.7 541.9 1332.8 540.6 C1332.8 539.3 1332.9 537.9 1333.0 536.6 C1333.1 535.3 1333.2 533.9 1333.2 532.6 C1333.3 531.3 1333.4 530.0 1333.5 528.6 C1333.6 527.3 1333.7 526.0 1333.8 524.6 C1333.9 523.3 1334.0 522.0 1334.1 520.6 C1334.1 520.1 1334.2 519.5 1334.2 519.0 C1335.2 519.0 1336.2 519.0 1337.2 519.0 C1337.3 520.3 1337.4 521.7 1337.5 523.0 C1337.6 524.3 1337.7 525.6 1337.9 527.0 C1338.0 528.3 1338.1 529.6 1338.2 531.0 C1338.3 532.3 1338.5 533.6 1338.6 534.9 C1338.7 536.3 1338.9 537.6 1339.0 538.9 C1339.1 540.2 1339.2 541.6 1339.4 542.9 C1339.5 544.2 1339.7 545.6 1339.8 546.9 C1340.0 548.2 1340.1 549.5 1340.3 550.8 C1340.5 552.2 1340.7 553.5 1340.8 554.8 C1341.0 556.1 1341.2 557.5 1341.4 558.8 C1341.5 560.1 1341.7 561.4 1341.8 562.8 C1342.0 564.1 1342.1 565.4 1342.2 566.7 C1342.3 568.1 1342.4 569.4 1342.4 570.7 C1342.5 572.1 1342.6 573.4 1342.7 574.7 C1342.7 576.0 1342.8 577.4 1342.9 578.7 C1342.9 580.0 1343.0 581.4 1343.0 582.7 C1343.1 584.0 1343.2 585.4 1343.2 586.7 C1343.3 588.0 1343.3 589.4 1343.4 590.7 C1343.4 592.0 1343.5 593.4 1343.5 594.7 C1343.6 596.0 1343.7 597.4 1343.7 598.7 C1343.8 600.0 1343.9 601.4 1343.9 602.7 C1344.0 604.0 1344.1 605.4 1344.2 606.7 C1344.2 608.0 1344.3 609.4 1344.4 610.7 C1344.5 612.0 1344.5 613.3 1344.6 614.7 C1344.7 616.0 1344.8 617.3 1344.8 618.7 C1344.9 620.0 1345.0 621.3 1345.1 622.7 C1345.2 624.0 1345.2 625.3 1345.3 626.7 C1345.4 628.0 1345.5 629.3 1345.6 630.6 C1345.6 632.0 1345.7 633.3 1345.8 634.6 C1345.9 636.0 1346.0 637.3 1346.0 638.6 C1346.1 640.0 1346.2 641.3 1346.3 642.6 C1346.4 644.0 1346.4 645.3 1346.5 646.6 C1346.6 647.9 1346.7 649.3 1346.8 650.6 C1346.9 651.9 1346.9 653.3 1347.0 654.6 C1347.1 655.9 1347.2 657.3 1347.3 658.6 C1347.4 659.9 1347.5 661.3 1347.5 662.6 C1347.6 663.9 1347.7 665.2 1347.8 666.6 C1347.9 667.9 1348.0 669.2 1348.1 670.6 C1348.2 671.9 1348.2 673.2 1348.3 674.6 C1348.4 675.9 1348.5 677.2 1348.6 678.5 C1348.7 679.9 1348.8 681.2 1348.9 682.5 C1349.0 683.9 1349.1 685.2 1349.2 686.5 C1349.4 687.9 1349.5 689.2 1349.6 690.5 C1349.7 691.8 1349.8 693.2 1349.9 694.5 C1350.0 695.8 1350.1 697.2 1350.2 698.5 C1350.3 699.8 1350.4 701.1 1350.5 702.5 C1350.6 703.8 1350.7 705.1 1350.8 706.5 C1350.8 707.8 1350.9 709.1 1351.0 710.5 C1351.1 711.8 1351.2 713.1 1351.3 714.4 C1351.4 715.8 1351.5 717.1 1351.6 718.4 C1351.7 719.8 1351.8 721.1 1351.9 722.4 C1352.0 723.8 1352.2 725.1 1352.3 726.4 C1352.4 727.7 1352.5 729.1 1352.6 730.4 C1352.8 731.7 1352.9 733.1 1353.0 734.4 C1353.1 735.7 1353.3 737.0 1353.4 738.4 C1353.6 739.7 1353.7 741.0 1353.8 742.3 C1354.0 743.7 1354.1 745.0 1354.3 746.3 C1354.5 747.6 1354.6 749.0 1354.8 750.3 C1354.9 751.6 1355.1 752.9 1355.3 754.3 C1355.4 755.6 1355.6 756.9 1355.8 758.2 C1356.0 759.6 1356.2 760.9 1356.4 762.2 C1356.6 763.5 1356.8 764.8 1357.0 766.2 C1357.2 767.5 1357.4 768.8 1357.7 770.1 C1357.9 771.4 1358.2 772.7 1358.5 774.0 C1358.7 775.3 1359.0 776.6 1359.4 777.9 C1359.7 779.2 1360.0 780.5 1360.4 781.8 C1360.8 783.1 1361.2 784.4 1361.6 785.7 C1362.0 786.9 1362.5 788.2 1363.0 789.4 C1363.4 790.6 1364.0 791.9 1364.5 793.0 C1365.1 794.3 1365.8 795.5 1366.5 796.7 C1367.2 797.9 1368.0 799.0 1368.9 800.1 C1369.7 801.0 1370.6 801.9 1371.6 802.7 C1372.6 803.5 1373.8 804.2 1374.9 804.8 C1376.2 805.4 1377.4 806.0 1378.7 806.5 C1380.0 806.9 1381.3 807.3 1382.5 807.6 C1383.8 808.0 1385.1 808.3 1386.4 808.6 C1387.7 809.0 1389.0 809.3 1390.4 809.5 C1391.7 809.7 1393.0 810.0 1394.4 810.1 C1395.7 810.3 1397.0 810.3 1398.3 810.4 C1399.6 810.5 1401.0 810.5 1402.3 810.6 C1403.6 810.6 1404.9 810.6 1406.3 810.7 C1407.6 810.7 1408.9 810.7 1410.3 810.7 C1411.6 810.8 1412.9 810.8 1414.3 810.8 C1415.6 810.8 1416.9 810.9 1418.3 810.9 C1419.6 810.9 1420.9 810.9 1422.3 810.9 C1423.6 810.9 1424.9 810.9 1426.3 811.0 C1427.6 811.0 1429.0 811.0 1430.3 811.0 C1431.6 811.0 1433.0 811.0 1434.3 811.1 C1435.6 811.1 1437.0 811.1 1438.3 811.1 C1439.7 811.1 1441.0 811.2 1442.3 811.2 C1443.7 811.2 1445.0 811.3 1446.3 811.3 C1447.7 811.4 1449.0 811.4 1450.3 811.5 C1451.7 811.5 1453.0 811.6 1454.3 811.6 C1455.6 811.7 1457.0 811.8 1458.3 811.8 C1459.6 811.9 1461.0 812.0 1462.3 812.1 C1463.6 812.1 1465.0 812.2 1466.3 812.3 C1467.6 812.4 1469.0 812.5 1470.3 812.6 C1471.6 812.7 1472.9 812.8 1474.3 812.9 C1475.6 813.0 1476.9 813.1 1478.3 813.2 C1479.6 813.4 1480.9 813.5 1482.2 813.7 C1483.6 813.8 1484.9 814.0 1486.2 814.1 C1487.5 814.3 1488.9 814.5 1490.2 814.7 C1491.5 814.8 1492.8 815.0 1494.1 815.2 C1495.5 815.4 1496.8 815.7 1498.1 815.9 C1499.4 816.1 1500.7 816.3 1502.0 816.5 C1503.3 816.8 1504.7 817.0 1506.0 817.3 C1507.3 817.5 1508.6 817.7 1509.9 818.0 C1511.2 818.3 1512.5 818.5 1513.8 818.8 C1515.1 819.1 1516.4 819.4 1517.7 819.7 C1519.0 820.0 1520.3 820.3 1521.6 820.6 C1522.9 820.9 1524.2 821.2 1525.5 821.6 C1526.8 821.9 1528.1 822.2 1529.4 822.6 C1530.6 822.9 1531.9 823.3 1533.2 823.7 C1534.5 824.0 1535.8 824.4 1537.0 824.8 C1538.3 825.2 1539.6 825.6 1540.8 826.1 C1542.1 826.5 1543.4 826.9 1544.6 827.4 C1545.9 827.8 1547.1 828.3 1548.4 828.8 C1549.6 829.3 1550.8 829.8 1552.1 830.3 C1553.3 830.8 1554.5 831.3 1555.8 831.9 C1557.0 832.4 1558.2 833.0 1559.4 833.5 C1560.6 834.1 1561.8 834.7 1563.0 835.3 C1564.2 835.9 1565.4 836.5 1566.5 837.1 C1567.7 837.8 1568.9 838.4 1570.0 839.0 C1571.2 839.7 1572.3 840.4 1573.5 841.1 C1574.6 841.7 1575.8 842.4 1576.9 843.2 C1578.0 843.9 1579.1 844.6 1580.3 845.3 C1581.4 846.1 1582.5 846.8 1583.6 847.6 C1584.6 848.4 1585.7 849.1 1586.8 849.9 C1587.9 850.7 1588.9 851.5 1590.0 852.3 C1591.0 853.2 1592.1 854.0 1593.1 854.8 C1594.2 855.7 1595.2 856.5 1596.2 857.4 C1597.2 858.2 1598.2 859.1 1599.2 860.0 C1600.2 860.9 1601.2 861.8 1602.2 862.7 C1603.2 863.6 1604.2 864.5 1605.1 865.4 C1606.1 866.3 1607.1 867.3 1608.0 868.2 C1609.0 869.1 1609.9 870.1 1610.8 871.0 C1611.8 872.0 1612.7 872.9 1613.6 873.9 C1614.5 874.8 1615.5 875.8 1616.4 876.8 C1617.3 877.8 1618.2 878.7 1619.1 879.7 C1620.0 880.7 1620.9 881.7 1621.8 882.7 C1622.7 883.7 1623.6 884.7 1624.4 885.7 C1625.3 886.7 1626.2 887.7 1627.1 888.7 C1628.0 889.7 1628.9 890.7 1629.7 891.7 C1630.6 892.7 1631.5 893.7 1632.4 894.7 C1633.3 895.7 1634.1 896.7 1635.0 897.7 C1635.9 898.7 1636.8 899.7 1637.7 900.6 C1638.6 901.6 1639.5 902.6 1640.4 903.6 C1641.3 904.6 1642.2 905.6 1643.1 906.5 C1644.0 907.5 1645.0 908.5 1645.9 909.4 C1646.8 910.4 1647.8 911.3 1648.7 912.2 C1649.7 913.2 1650.6 914.1 1651.6 915.0 C1652.6 915.9 1653.6 916.8 1654.6 917.7 C1655.6 918.5 1656.6 919.4 1657.7 920.2 C1658.7 921.1 1659.7 921.9 1660.8 922.7 C1661.9 923.5 1663.0 924.3 1664.1 925.1 C1665.1 925.8 1666.3 926.5 1667.4 927.3 C1668.5 928.0 1669.7 928.7 1670.8 929.3 C1672.0 930.0 1673.1 930.6 1674.3 931.3 C1675.5 931.9 1676.7 932.5 1677.9 933.1 C1679.1 933.6 1680.3 934.2 1681.5 934.7 C1682.8 935.2 1684.0 935.7 1685.3 936.2 C1686.5 936.6 1687.8 937.1 1689.0 937.5 C1690.3 937.9 1691.6 938.3 1692.9 938.6 C1694.1 939.0 1695.4 939.3 1696.7 939.6 C1698.0 939.9 1699.4 940.2 1700.7 940.4 C1702.0 940.6 1703.3 940.8 1704.6 941.0 C1705.9 941.2 1707.3 941.3 1708.6 941.4 C1709.9 941.5 1711.3 941.5 1712.6 941.5 C1713.9 941.5 1715.3 941.5 1716.6 941.4 C1717.9 941.4 1719.3 941.3 1720.6 941.2 C1721.9 941.0 1723.2 940.8 1724.5 940.6 C1725.9 940.3 1727.2 940.1 1728.5 939.7 C1729.8 939.4 1731.0 939.0 1732.3 938.6 C1733.6 938.2 1734.8 937.7 1736.0 937.2 C1737.3 936.7 1738.5 936.1 1739.7 935.5 C1740.9 934.9 1742.0 934.3 1743.2 933.6 C1744.3 932.9 1745.5 932.2 1746.6 931.4 C1747.7 930.7 1748.7 929.9 1749.8 929.1 C1750.8 928.2 1751.8 927.4 1752.8 926.5 C1753.8 925.6 1754.8 924.7 1755.8 923.8 C1756.7 922.9 1757.7 921.9 1758.6 920.9 C1759.5 920.0 1760.4 919.0 1761.3 918.0 C1762.1 917.0 1763.0 915.9 1763.8 914.9 C1764.7 913.9 1765.5 912.8 1766.3 911.7 C1767.1 910.7 1767.9 909.6 1768.6 908.5 C1769.4 907.4 1770.2 906.3 1770.9 905.2 C1771.7 904.1 1772.4 903.0 1773.1 901.9 C1773.8 900.7 1774.5 899.6 1775.2 898.4 C1775.9 897.3 1776.5 896.2 1777.2 895.0 C1777.9 893.8 1778.5 892.7 1779.2 891.5 C1779.8 890.3 1780.4 889.2 1781.1 888.0 C1781.7 886.8 1782.3 885.6 1782.9 884.4 C1783.5 883.3 1784.1 882.1 1784.7 880.9 C1785.3 879.7 1785.9 878.5 1786.5 877.3 C1787.1 876.1 1787.7 874.9 1788.2 873.7 C1788.8 872.5 1789.4 871.3 1790.0 870.1 C1790.5 868.9 1791.1 867.7 1791.7 866.5 C1792.3 865.3 1792.8 864.1 1793.4 862.9 C1794.0 861.7 1794.6 860.5 1795.1 859.3 C1795.7 858.1 1796.3 856.9 1796.9 855.7 C1797.5 854.5 1798.1 853.3 1798.8 852.1 C1799.4 850.9 1800.0 849.8 1800.7 848.6 C1801.3 847.4 1802.0 846.3 1802.7 845.1 C1803.3 844.0 1804.0 842.9 1804.8 841.7 C1805.5 840.6 1806.2 839.5 1807.0 838.4 C1807.8 837.3 1808.5 836.2 1809.3 835.2 C1810.1 834.1 1811.0 833.1 1811.8 832.0 C1812.7 831.0 1813.6 830.0 1814.4 829.0 C1815.3 828.0 1816.3 827.1 1817.2 826.1 C1818.2 825.2 1819.1 824.3 1820.1 823.4 C1821.1 822.5 1822.1 821.6 1823.2 820.8 C1824.2 819.9 1825.2 819.1 1826.3 818.3 C1827.4 817.5 1828.5 816.8 1829.6 816.0 C1830.7 815.3 1831.8 814.5 1832.9 813.8 C1834.1 813.1 1835.2 812.5 1836.4 811.8 C1837.6 811.2 1838.7 810.5 1839.9 809.9 C1841.1 809.3 1842.3 808.7 1843.5 808.2 C1844.7 807.6 1845.9 807.0 1847.2 806.5 C1848.4 806.0 1849.6 805.5 1850.9 805.0 C1852.1 804.5 1853.3 804.0 1854.6 803.6 C1855.9 803.1 1857.1 802.7 1858.4 802.3 C1859.6 801.9 1860.9 801.5 1862.2 801.1 C1863.5 800.7 1864.8 800.3 1866.0 800.0 C1867.3 799.6 1868.6 799.3 1869.9 798.9 C1871.2 798.6 1872.5 798.3 1873.8 798.0 C1875.1 797.7 1876.4 797.4 1877.7 797.1 C1879.0 796.8 1880.3 796.6 1881.6 796.3 C1882.9 796.1 1884.2 795.8 1885.5 795.6 C1886.9 795.3 1888.2 795.1 1889.5 794.9 C1890.8 794.7 1892.1 794.4 1893.4 794.2 C1894.7 794.0 1896.1 793.8 1897.4 793.6 C1898.7 793.4 1900.0 793.3 1901.3 793.1 C1902.7 792.9 1904.0 792.7 1905.3 792.5 C1906.6 792.4 1908.0 792.2 1909.3 792.1 C1910.6 791.9 1911.9 791.7 1913.3 791.6 C1914.6 791.4 1915.9 791.3 1917.2 791.2 C1918.6 791.0 1919.9 790.9 1921.2 790.8 C1922.5 790.6 1923.9 790.5 1925.2 790.4 C1926.5 790.3 1927.9 790.2 1929.2 790.0 C1930.5 789.9 1931.8 789.8 1933.2 789.7 C1934.5 789.6 1935.8 789.5 1937.2 789.4 C1938.5 789.3 1939.8 789.3 1941.1 789.2 C1942.5 789.1 1943.8 789.0 1945.1 788.9 C1946.5 788.8 1947.8 788.8 1949.1 788.7 C1950.5 788.6 1951.8 788.5 1953.1 788.5 C1954.5 788.4 1955.8 788.4 1957.1 788.3 C1958.5 788.2 1959.8 788.2 1961.1 788.1 C1962.5 788.1 1963.8 788.0 1965.1 788.0 C1966.4 787.9 1967.8 787.9 1969.1 787.8 C1970.4 787.8 1971.8 787.7 1973.1 787.7 C1974.4 787.6 1975.8 787.6 1977.1 787.5 C1978.4 787.5 1979.8 787.5 1981.1 787.4 C1982.4 787.4 1983.8 787.3 1985.1 787.3 C1986.4 787.3 1987.8 787.2 1989.1 787.2 C1990.4 787.2 1991.8 787.1 1993.1 787.1 C1994.4 787.1 1995.8 787.1 1997.1 787.0 C1998.4 787.0 1999.8 787.0 2001.1 787.0 C2002.4 786.9 2003.8 786.9 2005.1 786.9 C2006.4 786.9 2007.8 786.9 2009.1 786.9 C2010.4 786.8 2011.8 786.8 2013.1 786.8 C2014.4 786.8 2015.8 786.8 2017.1 786.8 C2018.4 786.8 2019.8 786.8 2021.1 786.8 C2022.4 786.8 2023.8 786.8 2025.1 786.8 C2026.4 786.8 2027.8 786.8 2029.1 786.8 C2030.4 786.8 2031.8 786.8 2033.1 786.8 C2034.4 786.8 2035.8 786.9 2037.1 786.9 C2038.4 786.9 2039.8 786.9 2041.1 786.9 C2042.4 787.0 2043.8 787.0 2045.1 787.0 C2046.4 787.0 2047.8 787.1 2049.1 787.1 C2050.4 787.1 2051.8 787.2 2053.1 787.2 C2054.4 787.3 2055.8 787.3 2057.1 787.3 C2058.4 787.4 2059.8 787.4 2061.1 787.5 C2062.4 787.5 2063.8 787.6 2065.1 787.6 C2066.4 787.6 2067.8 787.7 2069.1 787.7 C2070.4 787.8 2071.8 787.8 2073.1 787.9 C2074.4 787.9 2075.7 788.0 2077.1 788.0 C2078.4 788.1 2079.7 788.1 2081.1 788.2 C2082.4 788.2 2083.7 788.3 2085.1 788.3 C2086.4 788.4 2087.7 788.4 2089.1 788.5 C2090.1 788.5 2091.0 788.6 2092.0 788.6"/>
<path stroke="#2d4089" d="M197.7 1303.8 C199.0 1303.7 200.4 1303.7 201.7 1303.6 C203.0 1303.6 204.4 1303.5 205.7 1303.4 C207.0 1303.4 208.4 1303.3 209.7 1303.2 C211.0 1303.2 212.4 1303.1 213.7 1303.1 C215.0 1303.0 216.3 1302.9 217.7 1302.9 C219.0 1302.8 220.3 1302.7 221.7 1302.7 C223.0 1302.6 224.3 1302.6 225.7 1302.5 C227.0 1302.4 228.3 1302.4 229.7 1302.3 C231.0 1302.3 232.3 1302.2 233.7 1302.1 C235.0 1302.1 236.3 1302.0 237.7 1301.9 C239.0 1301.9 240.3 1301.8 241.7 1301.8 C243.0 1301.7 244.3 1301.6 245.6 1301.6 C247.0 1301.5 248.3 1301.5 249.6 1301.4 C251.0 1301.3 252.3 1301.3 253.6 1301.2 C255.0 1301.1 256.3 1301.1 257.6 1301.0 C259.0 1301.0 260.3 1300.9 261.6 1300.8 C263.0 1300.8 264.3 1300.7 265.6 1300.7 C267.0 1300.6 268.3 1300.5 269.6 1300.5 C271.0 1300.4 272.3 1300.4 273.6 1300.3 C275.0 1300.2 276.3 1300.2 277.6 1300.1 C278.9 1300.1 280.3 1300.0 281.6 1299.9 C282.9 1299.9 284.3 1299.8 285.6 1299.8 C286.9 1299.7 288.3 1299.6 289.6 1299.6 C290.9 1299.5 292.3 1299.5 293.6 1299.4 C294.9 1299.3 296.3 1299.3 297.6 1299.2 C298.9 1299.2 300.3 1299.1 301.6 1299.1 C302.9 1299.0 304.3 1298.9 305.6 1298.9 C306.9 1298.8 308.3 1298.8 309.6 1298.7 C310.9 1298.6 312.2 1298.6 313.6 1298.5 C314.9 1298.5 316.2 1298.4 317.6 1298.4 C318.9 1298.3 320.2 1298.2 321.6 1298.2 C322.9 1298.1 324.2 1298.1 325.6 1298.0 C326.9 1298.0 328.2 1297.9 329.6 1297.8 C330.9 1297.8 332.2 1297.7 333.6 1297.7 C334.9 1297.6 336.2 1297.6 337.6 1297.5 C338.9 1297.5 340.2 1297.4 341.6 1297.3 C342.9 1297.3 344.2 1297.2 345.6 1297.2 C346.9 1297.1 348.2 1297.1 349.5 1297.0 C350.9 1297.0 352.2 1296.9 353.5 1296.9 C354.9 1296.8 356.2 1296.7 357.5 1296.7 C358.9 1296.6 360.2 1296.6 361.5 1296.5 C362.9 1296.5 364.2 1296.4 365.5 1296.4 C366.9 1296.3 368.2 1296.3 369.5 1296.2 C370.9 1296.2 372.2 1296.1 373.5 1296.1 C374.9 1296.0 376.2 1296.0 377.5 1295.9 C378.9 1295.9 380.2 1295.8 381.5 1295.8 C382.9 1295.7 384.2 1295.7 385.5 1295.6 C386.9 1295.6 388.2 1295.5 389.5 1295.5 C390.9 1295.4 392.2 1295.4 393.5 1295.3 C394.8 1295.3 396.2 1295.2 397.5 1295.2 C398.8 1295.1 400.2 1295.1 401.5 1295.0 C402.8 1295.0 404.2 1294.9 405.5 1294.9 C406.8 1294.8 408.2 1294.8 409.5 1294.7 C410.8 1294.7 412.2 1294.6 413.5 1294.6 C414.8 1294.5 416.2 1294.5 417.5 1294.5 C418.8 1294.4 420.2 1294.4 421.5 1294.3 C422.8 1294.3 424.2 1294.2 425.5 1294.2 C426.8 1294.1 428.2 1294.1 429.5 1294.0 C430.8 1294.0 432.2 1294.0 433.5 1293.9 C434.8 1293.9 436.2 1293.8 437.5 1293.8 C438.8 1293.7 440.2 1293.7 441.5 1293.7 C442.8 1293.6 444.2 1293.6 445.5 1293.5 C446.8 1293.5 448.2 1293.5 449.5 1293.4 C450.8 1293.4 452.1 1293.3 453.5 1293.3 C454.8 1293.2 456.1 1293.2 457.5 1293.2 C458.8 1293.1 460.1 1293.1 461.5 1293.1 C462.8 1293.0 464.1 1293.0 465.5 1292.9 C466.8 1292.9 468.1 1292.9 469.5 1292.8 C470.8 1292.8 472.1 1292.7 473.5 1292.7 C474.8 1292.7 476.1 1292.6 477.5 1292.6 C478.8 1292.6 480.1 1292.5 481.5 1292.5 C482.8 1292.4 484.1 1292.4 485.5 1292.4 C486.8 1292.3 488.1 1292.3 489.5 1292.3 C490.8 1292.2 492.1 1292.2 493.5 1292.1 C494.8 1292.1 496.1 1292.1 497.5 1292.0 C498.8 1292.0 500.1 1292.0 501.5 1291.9 C502.8 1291.9 504.1 1291.9 505.5 1291.8 C506.8 1291.8 508.1 1291.8 509.5 1291.7 C510.8 1291.7 512.1 1291.6 513.5 1291.6 C514.8 1291.6 516.1 1291.5 517.5 1291.5 C518.8 1291.5 520.1 1291.4 521.5 1291.4 C522.8 1291.4 524.1 1291.3 525.5 1291.3 C526.8 1291.3 528.1 1291.2 529.5 1291.2 C530.8 1291.2 532.1 1291.1 533.5 1291.1 C534.8 1291.1 536.1 1291.0 537.4 1291.0 C538.8 1291.0 540.1 1290.9 541.4 1290.9 C542.8 1290.9 544.1 1290.8 545.4 1290.8 C546.8 1290.8 548.1 1290.7 549.4 1290.7 C550.8 1290.7 552.1 1290.6 553.4 1290.6 C554.8 1290.6 556.1 1290.5 557.4 1290.5 C558.8 1290.5 560.1 1290.4 561.4 1290.4 C562.8 1290.4 564.1 1290.3 565.4 1290.3 C566.8 1290.3 568.1 1290.2 569.4 1290.2 C570.8 1290.2 572.1 1290.1 573.4 1290.1 C574.8 1290.1 576.1 1290.0 577.4 1290.0 C578.8 1290.0 580.1 1289.9 581.4 1289.9 C582.8 1289.9 584.1 1289.8 585.4 1289.8 C586.8 1289.8 588.1 1289.7 589.4 1289.7 C590.8 1289.7 592.1 1289.7 593.4 1289.6 C594.8 1289.6 596.1 1289.6 597.4 1289.5 C598.8 1289.5 600.1 1289.5 601.4 1289.4 C602.8 1289.4 604.1 1289.4 605.4 1289.3 C606.8 1289.3 608.1 1289.3 609.4 1289.2 C610.8 1289.2 612.1 1289.1 613.4 1289.1 C614.8 1289.1 616.1 1289.0 617.4 1289.0 C618.8 1289.0 620.1 1288.9 621.4 1288.9 C622.8 1288.9 624.1 1288.8 625.4 1288.8 C626.8 1288.8 628.1 1288.7 629.4 1288.7 C630.8 1288.7 632.1 1288.6 633.4 1288.6 C634.8 1288.6 636.1 1288.5 637.4 1288.5 C638.8 1288.5 640.1 1288.4 641.4 1288.4 C642.7 1288.3 644.1 1288.3 645.4 1288.3 C646.7 1288.2 648.1 1288.2 649.4 1288.2 C650.7 1288.1 652.1 1288.1 653.4 1288.1 C654.7 1288.0 656.1 1288.0 657.4 1287.9 C658.7 1287.9 660.1 1287.9 661.4 1287.8 C662.7 1287.8 664.1 1287.8 665.4 1287.7 C666.7 1287.7 668.1 1287.6 669.4 1287.6 C670.7 1287.6 672.1 1287.5 673.4 1287.5 C674.7 1287.5 676.1 1287.4 677.4 1287.4 C678.7 1287.3 680.1 1287.3 681.4 1287.3 C682.7 1287.2 684.1 1287.2 685.4 1287.1 C686.7 1287.1 688.1 1287.1 689.4 1287.0 C690.7 1287.0 692.1 1286.9 693.4 1286.9 C694.7 1286.8 696.1 1286.8 697.4 1286.8 C698.7 1286.7 700.1 1286.7 701.4 1286.6 C702.7 1286.6 704.1 1286.6 705.4 1286.5 C706.7 1286.5 708.1 1286.4 709.4 1286.4 C710.7 1286.3 712.1 1286.3 713.4 1286.2 C714.7 1286.2 716.1 1286.2 717.4 1286.1 C718.7 1286.1 720.0 1286.0 721.4 1286.0 C722.7 1285.9 724.0 1285.9 725.4 1285.8 C726.7 1285.8 728.0 1285.8 729.4 1285.7 C730.7 1285.7 732.0 1285.6 733.4 1285.6 C734.7 1285.5 736.0 1285.5 737.4 1285.4 C738.7 1285.4 740.0 1285.3 741.4 1285.3 C742.7 1285.2 744.0 1285.2 745.4 1285.1 C746.7 1285.1 748.0 1285.0 749.4 1285.0 C750.7 1284.9 752.0 1284.9 753.4 1284.8 C754.7 1284.8 756.0 1284.7 757.4 1284.7 C758.7 1284.6 760.0 1284.6 761.4 1284.5 C762.7 1284.5 764.0 1284.4 765.4 1284.4 C766.7 1284.3 768.0 1284.3 769.3 1284.2 C770.7 1284.2 772.0 1284.1 773.3 1284.1 C774.7 1284.0 776.0 1284.0 777.3 1283.9 C778.7 1283.9 780.0 1283.8 781.3 1283.8 C782.7 1283.7 784.0 1283.7 785.3 1283.6 C786.7 1283.6 788.0 1283.5 789.3 1283.5 C790.7 1283.4 792.0 1283.3 793.3 1283.3 C794.7 1283.2 796.0 1283.2 797.3 1283.1 C798.7 1283.1 800.0 1283.0 801.3 1283.0 C802.7 1282.9 804.0 1282.9 805.3 1282.8 C806.7 1282.7 808.0 1282.7 809.3 1282.6 C810.6 1282.6 812.0 1282.5 813.3 1282.5 C814.6 1282.4 816.0 1282.4 817.3 1282.3 C818.6 1282.2 820.0 1282.2 821.3 1282.1 C822.6 1282.1 824.0 1282.0 825.3 1281.9 C826.6 1281.9 828.0 1281.8 829.3 1281.8 C830.6 1281.7 832.0 1281.7 833.3 1281.6 C834.6 1281.5 836.0 1281.5 837.3 1281.4 C838.6 1281.4 840.0 1281.3 841.3 1281.2 C842.6 1281.2 844.0 1281.1 845.3 1281.1 C846.6 1281.0 847.9 1280.9 849.3 1280.9 C850.6 1280.8 851.9 1280.8 853.3 1280.7 C854.6 1280.6 855.9 1280.6 857.3 1280.5 C858.6 1280.5 859.9 1280.4 861.3 1280.3 C862.6 1280.3 863.9 1280.2 865.3 1280.1 C866.6 1280.1 867.9 1280.0 869.3 1280.0 C870.6 1279.9 871.9 1279.8 873.3 1279.8 C874.6 1279.7 875.9 1279.6 877.2 1279.6 C878.6 1279.5 879.9 1279.5 881.2 1279.4 C882.6 1279.3 883.9 1279.3 885.2 1279.2 C886.6 1279.1 887.9 1279.1 889.2 1279.0 C890.6 1278.9 891.9 1278.9 893.2 1278.8 C894.6 1278.7 895.9 1278.7 897.2 1278.6 C898.6 1278.5 899.9 1278.5 901.2 1278.4 C902.6 1278.3 903.9 1278.3 905.2 1278.2 C906.5 1278.1 907.9 1278.1 909.2 1278.0 C910.5 1277.9 911.9 1277.9 913.2 1277.8 C914.5 1277.7 915.9 1277.7 917.2 1277.6 C918.5 1277.5 919.9 1277.5 921.2 1277.4 C922.5 1277.3 923.9 1277.3 925.2 1277.2 C926.5 1277.1 927.9 1277.1 929.2 1277.0 C930.5 1276.9 931.8 1276.9 933.2 1276.8 C934.5 1276.7 935.8 1276.6 937.2 1276.6 C938.5 1276.5 939.8 1276.4 941.2 1276.4 C942.5 1276.3 943.8 1276.2 945.2 1276.2 C946.5 1276.1 947.8 1276.0 949.2 1275.9 C950.5 1275.9 951.8 1275.8 953.1 1275.7 C954.5 1275.6 955.8 1275.6 957.1 1275.5 C958.5 1275.4 959.8 1275.3 961.1 1275.3 C962.5 1275.2 963.8 1275.1 965.1 1275.0 C966.5 1275.0 967.8 1274.9 969.1 1274.8 C970.5 1274.7 971.8 1274.6 973.1 1274.5 C974.4 1274.5 975.8 1274.4 977.1 1274.3 C978.4 1274.2 979.8 1274.1 981.1 1273.9 C982.4 1273.8 983.7 1273.7 985.1 1273.6 C986.4 1273.5 987.7 1273.3 989.1 1273.2 C990.4 1273.0 991.7 1272.9 993.0 1272.7 C994.4 1272.6 995.7 1272.4 997.0 1272.2 C998.3 1272.0 999.6 1271.8 1001.0 1271.6 C1002.3 1271.4 1003.6 1271.2 1004.9 1271.0 C1006.2 1270.8 1007.5 1270.6 1008.9 1270.4 C1010.2 1270.1 1011.5 1269.9 1012.8 1269.7 C1014.1 1269.4 1015.4 1269.2 1016.7 1268.9 C1018.0 1268.7 1019.3 1268.4 1020.6 1268.1 C1021.9 1267.8 1023.2 1267.5 1024.5 1267.2 C1025.8 1266.8 1027.1 1266.5 1028.4 1266.2 C1029.7 1265.9 1031.0 1265.6 1032.3 1265.3 C1033.6 1265.0 1034.9 1264.7 1036.2 1264.4 C1037.5 1264.1 1038.8 1263.8 1040.1 1263.5 C1041.4 1263.2 1042.7 1262.8 1044.1 1262.7 C1045.4 1262.5 1046.7 1262.4 1048.0 1262.3 C1049.4 1262.2 1050.7 1262.3 1052.1 1262.3 C1053.4 1262.4 1054.8 1262.3 1056.1 1262.5 C1057.4 1262.6 1058.8 1262.6 1059.9 1263.0 C1061.2 1263.5 1062.4 1264.4 1063.4 1265.3 C1064.3 1266.2 1065.1 1267.3 1065.7 1268.4 C1066.4 1269.5 1066.9 1270.8 1067.4 1272.1 C1067.9 1273.3 1068.4 1274.6 1068.8 1275.9 C1069.3 1277.2 1069.6 1278.4 1070.0 1279.7 C1070.4 1281.0 1070.7 1282.3 1071.1 1283.6 C1071.5 1284.9 1071.9 1286.1 1072.2 1287.4 C1072.6 1288.7 1072.9 1290.0 1073.3 1291.3 C1073.7 1292.6 1074.1 1293.9 1074.5 1295.1 C1074.9 1296.4 1075.3 1297.6 1075.8 1298.9 C1076.3 1300.1 1076.9 1301.3 1077.6 1302.4 C1078.2 1303.6 1078.9 1304.8 1079.6 1305.9 C1079.7 1306.0 1079.8 1306.2 1079.9 1306.3 C1080.6 1305.2 1081.4 1304.1 1082.1 1302.9 C1082.8 1301.8 1083.5 1300.7 1084.1 1299.5 C1084.8 1298.3 1085.3 1297.1 1085.9 1295.9 C1086.5 1294.7 1087.1 1293.5 1087.7 1292.3 C1088.3 1291.2 1089.0 1290.0 1089.7 1288.9 C1090.4 1287.7 1091.2 1286.6 1092.0 1285.6 C1092.9 1284.6 1093.8 1283.6 1094.9 1282.8 C1095.9 1281.9 1097.0 1281.1 1098.2 1280.5 C1099.4 1280.0 1100.7 1279.7 1101.9 1279.4 C1103.3 1279.0 1104.6 1278.8 1105.9 1278.6 C1107.3 1278.4 1108.6 1278.3 1109.9 1278.1 C1111.3 1278.0 1112.6 1277.9 1113.9 1277.8 C1115.2 1277.7 1116.6 1277.6 1117.9 1277.5 C1119.2 1277.5 1120.6 1277.4 1121.9 1277.3 C1123.2 1277.3 1124.6 1277.2 1125.9 1277.1 C1127.2 1277.0 1128.6 1277.0 1129.9 1276.9 C1131.2 1276.8 1132.6 1276.7 1133.9 1276.7 C1135.2 1276.6 1136.6 1276.5 1137.9 1276.4 C1139.2 1276.4 1140.6 1276.3 1141.9 1276.2 C1143.2 1276.1 1144.5 1276.1 1145.9 1276.0 C1147.2 1275.9 1148.5 1275.9 1149.9 1275.8 C1151.2 1275.8 1152.5 1275.7 1153.9 1275.7 C1155.2 1275.6 1156.5 1275.6 1157.9 1275.6 C1159.2 1275.6 1160.5 1275.5 1161.9 1275.5 C1163.2 1275.5 1164.5 1275.5 1165.9 1275.5 C1167.2 1275.5 1168.5 1275.4 1169.9 1275.4 C1171.2 1275.4 1172.5 1275.3 1173.9 1275.2 C1175.2 1275.1 1176.5 1275.0 1177.8 1274.9 C1179.2 1274.7 1180.5 1274.6 1181.8 1274.4 C1183.2 1274.3 1184.5 1274.2 1185.8 1274.0 C1187.1 1273.9 1188.5 1273.7 1189.8 1273.6 C1191.1 1273.4 1192.5 1273.3 1193.8 1273.2 C1195.1 1273.0 1196.4 1272.8 1197.8 1272.6 C1199.1 1272.4 1200.4 1272.2 1201.7 1271.9 C1203.0 1271.6 1204.3 1271.2 1205.5 1270.8 C1206.8 1270.4 1208.0 1269.9 1209.3 1269.4 C1210.5 1268.9 1211.7 1268.3 1212.9 1267.7 C1214.1 1267.1 1215.2 1266.4 1216.3 1265.6 C1217.5 1264.9 1218.6 1264.2 1219.6 1263.4 C1220.7 1262.6 1221.8 1261.8 1222.8 1260.9 C1223.8 1260.0 1224.8 1259.1 1225.7 1258.2 C1226.7 1257.3 1227.6 1256.3 1228.6 1255.4 C1229.5 1254.4 1230.4 1253.4 1231.3 1252.4 C1232.2 1251.4 1233.1 1250.4 1233.9 1249.4 C1234.8 1248.4 1235.6 1247.3 1236.4 1246.3 C1237.3 1245.2 1238.1 1244.2 1238.9 1243.1 C1239.7 1242.0 1240.5 1241.0 1241.3 1239.9 C1242.0 1238.8 1242.7 1237.6 1243.4 1236.5 C1244.0 1235.3 1244.6 1234.1 1245.1 1232.9 C1245.7 1231.7 1246.2 1230.5 1246.7 1229.2 C1247.2 1228.0 1247.7 1226.8 1248.2 1225.5 C1248.7 1224.3 1249.1 1223.0 1249.6 1221.8 C1250.0 1220.5 1250.4 1219.2 1250.8 1218.0 C1251.2 1216.7 1251.6 1215.4 1252.0 1214.1 C1252.4 1212.9 1252.7 1211.6 1253.1 1210.3 C1253.4 1209.0 1253.7 1207.7 1254.0 1206.4 C1254.3 1205.1 1254.6 1203.8 1254.8 1202.5 C1255.1 1201.2 1255.4 1199.9 1255.6 1198.5 C1255.9 1197.2 1256.1 1195.9 1256.3 1194.6 C1256.6 1193.3 1256.8 1192.0 1257.0 1190.7 C1257.3 1189.4 1257.5 1188.1 1257.8 1186.7 C1258.1 1185.4 1258.3 1184.1 1258.6 1182.8 C1258.8 1181.5 1259.1 1180.2 1259.4 1178.9 C1259.6 1177.6 1259.9 1176.3 1260.1 1175.0 C1260.3 1173.7 1260.6 1172.3 1260.8 1171.0 C1261.1 1169.7 1261.3 1168.4 1261.6 1167.1 C1261.8 1165.8 1262.1 1164.5 1262.3 1163.2 C1262.6 1161.9 1262.9 1160.6 1263.1 1159.3 C1263.4 1158.0 1263.7 1156.7 1264.0 1155.3 C1264.3 1154.0 1264.5 1152.7 1264.8 1151.4 C1265.0 1150.1 1265.3 1148.8 1265.5 1147.5 C1265.7 1146.2 1265.9 1144.9 1266.1 1143.5 C1266.4 1142.2 1266.6 1140.9 1266.8 1139.6 C1267.0 1138.3 1267.2 1137.0 1267.3 1135.6 C1267.5 1134.3 1267.6 1133.0 1267.8 1131.7 C1267.9 1130.3 1268.0 1129.0 1268.1 1127.7 C1268.2 1126.3 1268.2 1125.0 1268.3 1123.7 C1268.4 1122.4 1268.4 1121.0 1268.5 1119.7 C1268.6 1118.4 1268.6 1117.0 1268.7 1115.7 C1268.8 1114.4 1268.8 1113.0 1268.9 1111.7 C1268.9 1110.4 1269.0 1109.0 1269.1 1107.7 C1269.1 1106.4 1269.2 1105.0 1269.3 1103.7 C1269.3 1102.4 1269.4 1101.0 1269.5 1099.7 C1269.5 1098.4 1269.6 1097.0 1269.7 1095.7 C1269.7 1094.4 1269.8 1093.0 1269.8 1091.7 C1269.9 1090.4 1270.0 1089.0 1270.0 1087.7 C1270.1 1086.4 1270.2 1085.1 1270.2 1083.7 C1270.3 1082.4 1270.3 1081.1 1270.4 1079.7 C1270.5 1078.4 1270.5 1077.1 1270.6 1075.7 C1270.7 1074.4 1270.7 1073.1 1270.8 1071.7 C1270.8 1070.4 1270.9 1069.1 1271.0 1067.7 C1271.0 1066.4 1271.1 1065.1 1271.2 1063.7 C1271.2 1062.4 1271.3 1061.1 1271.4 1059.7 C1271.4 1058.4 1271.5 1057.1 1271.6 1055.8 C1271.6 1054.4 1271.7 1053.1 1271.8 1051.8 C1271.9 1050.4 1271.9 1049.1 1272.0 1047.8 C1272.1 1046.4 1272.2 1045.1 1272.2 1043.8 C1272.3 1042.4 1272.4 1041.1 1272.5 1039.8 C1272.6 1038.4 1272.7 1037.1 1272.7 1035.8 C1272.8 1034.5 1272.9 1033.1 1273.0 1031.8 C1273.1 1030.5 1273.2 1029.1 1273.3 1027.8 C1273.4 1026.5 1273.6 1025.2 1273.7 1023.8 C1273.8 1022.5 1273.9 1021.1 1274.0 1019.8 C1274.1 1018.7 1274.2 1017.7 1274.3 1016.6 C1275.3 1016.6 1276.2 1016.6 1277.2 1016.6 C1277.4 1017.9 1277.5 1019.2 1277.7 1020.6 C1277.9 1021.9 1278.0 1023.2 1278.2 1024.5 C1278.4 1025.9 1278.5 1027.2 1278.7 1028.5 C1278.8 1029.8 1279.0 1031.2 1279.1 1032.5 C1279.3 1033.8 1279.4 1035.1 1279.6 1036.5 C1279.7 1037.8 1279.9 1039.1 1280.0 1040.4 C1280.1 1041.8 1280.3 1043.1 1280.4 1044.4 C1280.6 1045.7 1280.7 1047.1 1280.8 1048.4 C1281.0 1049.7 1281.1 1051.0 1281.2 1052.4 C1281.3 1053.7 1281.5 1055.0 1281.6 1056.4 C1281.7 1057.7 1281.8 1059.0 1281.9 1060.3 C1282.0 1061.7 1282.1 1063.0 1282.2 1064.3 C1282.3 1065.7 1282.4 1067.0 1282.5 1068.3 C1282.5 1069.7 1282.6 1071.0 1282.7 1072.3 C1282.8 1073.6 1282.9 1075.0 1283.0 1076.3 C1283.0 1077.6 1283.1 1079.0 1283.2 1080.3 C1283.3 1081.6 1283.4 1083.0 1283.5 1084.3 C1283.6 1085.6 1283.7 1086.9 1283.9 1088.3 C1284.0 1089.6 1284.1 1090.9 1284.2 1092.3 C1284.4 1093.6 1284.5 1094.9 1284.6 1096.2 C1284.7 1097.6 1284.9 1098.9 1285.0 1100.2 C1285.1 1101.5 1285.3 1102.9 1285.4 1104.2 C1285.5 1105.5 1285.7 1106.9 1285.8 1108.2 C1285.9 1109.5 1286.0 1110.8 1286.2 1112.2 C1286.3 1113.5 1286.4 1114.8 1286.5 1116.1 C1286.6 1117.5 1286.8 1118.8 1286.9 1120.1 C1287.0 1121.5 1287.1 1122.8 1287.2 1124.1 C1287.3 1125.4 1287.4 1126.8 1287.6 1128.1 C1287.7 1129.4 1287.8 1130.8 1287.9 1132.1 C1288.0 1133.4 1288.1 1134.7 1288.2 1136.1 C1288.3 1137.4 1288.4 1138.7 1288.6 1140.1 C1288.7 1141.4 1288.8 1142.7 1288.9 1144.1 C1289.0 1145.4 1289.1 1146.7 1289.2 1148.0 C1289.3 1149.4 1289.4 1150.7 1289.5 1152.0 C1289.6 1153.4 1289.7 1154.7 1289.8 1156.0 C1289.9 1157.3 1290.0 1158.7 1290.1 1160.0 C1290.2 1161.3 1290.3 1162.7 1290.4 1164.0 C1290.5 1165.3 1290.6 1166.6 1290.7 1168.0 C1290.8 1169.3 1290.9 1170.6 1291.0 1172.0 C1291.1 1173.3 1291.2 1174.6 1291.3 1176.0 C1291.4 1177.3 1291.5 1178.6 1291.6 1179.9 C1291.7 1181.3 1291.8 1182.6 1291.9 1183.9 C1292.1 1185.3 1292.2 1186.6 1292.3 1187.9 C1292.4 1189.2 1292.6 1190.6 1292.7 1191.9 C1292.8 1193.2 1293.0 1194.5 1293.1 1195.9 C1293.2 1197.2 1293.4 1198.5 1293.5 1199.9 C1293.6 1201.2 1293.7 1202.5 1293.9 1203.8 C1294.0 1205.2 1294.1 1206.5 1294.2 1207.8 C1294.4 1209.1 1294.5 1210.5 1294.7 1211.8 C1294.8 1213.1 1295.0 1214.4 1295.1 1215.8 C1295.3 1217.1 1295.5 1218.4 1295.6 1219.7 C1295.8 1221.1 1296.0 1222.4 1296.2 1223.7 C1296.4 1225.0 1296.6 1226.3 1296.8 1227.7 C1297.0 1229.0 1297.2 1230.3 1297.5 1231.6 C1297.7 1232.9 1298.0 1234.2 1298.2 1235.5 C1298.5 1236.8 1298.8 1238.1 1299.1 1239.4 C1299.4 1240.7 1299.8 1242.0 1300.1 1243.3 C1300.5 1244.6 1300.8 1245.9 1301.3 1247.1 C1301.7 1248.4 1302.1 1249.7 1302.5 1250.9 C1303.0 1252.2 1303.5 1253.4 1304.0 1254.7 C1304.5 1255.9 1305.1 1257.1 1305.7 1258.3 C1306.3 1259.5 1306.9 1260.7 1307.6 1261.8 C1308.4 1262.9 1309.1 1264.0 1310.0 1265.1 C1310.8 1266.1 1311.7 1267.1 1312.7 1268.0 C1313.7 1268.9 1314.7 1269.7 1315.8 1270.4 C1317.0 1271.2 1318.2 1271.8 1319.5 1272.3 C1320.7 1272.7 1322.0 1273.0 1323.2 1273.3 C1324.6 1273.6 1325.9 1273.8 1327.2 1274.0 C1328.6 1274.2 1329.9 1274.3 1331.2 1274.3 C1332.6 1274.4 1333.9 1274.5 1335.2 1274.5 C1336.6 1274.6 1337.9 1274.6 1339.2 1274.7 C1340.6 1274.7 1341.9 1274.7 1343.2 1274.8 C1344.6 1274.8 1345.9 1274.8 1347.2 1274.9 C1348.6 1274.9 1349.9 1274.9 1351.2 1275.0 C1352.6 1275.0 1353.9 1275.0 1355.2 1275.0 C1356.6 1275.1 1357.9 1275.1 1359.2 1275.1 C1360.6 1275.1 1361.9 1275.1 1363.2 1275.2 C1364.6 1275.2 1365.9 1275.2 1367.2 1275.2 C1368.6 1275.2 1369.9 1275.2 1371.2 1275.3 C1372.6 1275.3 1373.9 1275.3 1375.2 1275.3 C1376.6 1275.3 1377.9 1275.3 1379.2 1275.4 C1380.6 1275.4 1381.9 1275.4 1383.2 1275.4 C1384.6 1275.5 1385.9 1275.5 1387.2 1275.5 C1388.6 1275.5 1389.9 1275.6 1391.2 1275.6 C1392.6 1275.7 1393.9 1275.7 1395.2 1275.8 C1396.6 1275.8 1397.9 1275.9 1399.2 1275.9 C1400.5 1276.0 1401.9 1276.1 1403.2 1276.2 C1404.5 1276.2 1405.9 1276.3 1407.2 1276.4 C1408.5 1276.5 1409.9 1276.6 1411.2 1276.7 C1412.5 1276.8 1413.9 1276.9 1415.2 1277.0 C1416.5 1277.1 1417.8 1277.2 1419.2 1277.3 C1420.5 1277.4 1421.8 1277.5 1423.2 1277.6 C1424.5 1277.6 1425.8 1277.7 1427.2 1277.8 C1428.5 1277.9 1429.8 1278.0 1431.2 1278.1 C1432.5 1278.1 1433.8 1278.2 1435.1 1278.3 C1436.5 1278.4 1437.8 1278.5 1439.1 1278.6 C1440.5 1278.6 1441.8 1278.7 1443.1 1278.8 C1444.5 1278.9 1445.8 1279.0 1447.1 1279.1 C1448.4 1279.2 1449.8 1279.3 1451.1 1279.4 C1452.4 1279.5 1453.8 1279.6 1455.1 1279.7 C1456.4 1279.8 1457.8 1279.9 1459.1 1280.1 C1460.4 1280.2 1461.7 1280.3 1463.1 1280.4 C1464.4 1280.6 1465.7 1280.7 1467.0 1280.9 C1468.4 1281.0 1469.7 1281.2 1471.0 1281.3 C1472.3 1281.5 1473.7 1281.6 1475.0 1281.8 C1476.3 1282.0 1477.6 1282.2 1478.9 1282.4 C1480.3 1282.5 1481.6 1282.7 1482.9 1282.9 C1484.2 1283.1 1485.5 1283.3 1486.9 1283.5 C1488.2 1283.8 1489.5 1284.0 1490.8 1284.2 C1492.1 1284.4 1493.4 1284.6 1494.7 1284.9 C1496.1 1285.1 1497.4 1285.4 1498.7 1285.6 C1500.0 1285.9 1501.3 1286.1 1502.6 1286.4 C1503.9 1286.6 1505.2 1286.9 1506.5 1287.2 C1507.8 1287.4 1509.1 1287.7 1510.4 1288.0 C1511.7 1288.3 1513.0 1288.6 1514.3 1288.9 C1515.6 1289.2 1516.9 1289.5 1518.2 1289.8 C1519.5 1290.2 1520.8 1290.5 1522.1 1290.8 C1523.4 1291.2 1524.7 1291.5 1526.0 1291.9 C1527.2 1292.2 1528.5 1292.6 1529.8 1292.9 C1531.1 1293.3 1532.4 1293.7 1533.6 1294.1 C1534.9 1294.5 1536.2 1294.9 1537.5 1295.3 C1538.7 1295.7 1540.0 1296.1 1541.3 1296.5 C1542.5 1296.9 1543.8 1297.4 1545.0 1297.8 C1546.3 1298.3 1547.6 1298.7 1548.8 1299.2 C1550.1 1299.6 1551.3 1300.1 1552.6 1300.6 C1553.8 1301.1 1555.0 1301.6 1556.3 1302.0 C1557.5 1302.5 1558.8 1303.0 1560.0 1303.6 C1561.2 1304.1 1562.4 1304.6 1563.7 1305.1 C1564.9 1305.7 1566.1 1306.2 1567.3 1306.7 C1568.5 1307.3 1569.7 1307.9 1571.0 1308.4 C1572.2 1309.0 1573.4 1309.6 1574.6 1310.1 C1575.8 1310.7 1577.0 1311.3 1578.1 1311.9 C1579.3 1312.5 1580.5 1313.1 1581.7 1313.7 C1582.9 1314.4 1584.1 1315.0 1585.2 1315.6 C1586.4 1316.3 1587.6 1316.9 1588.7 1317.6 C1589.9 1318.2 1591.0 1318.9 1592.2 1319.6 C1593.3 1320.3 1594.5 1321.0 1595.6 1321.7 C1596.7 1322.4 1597.9 1323.1 1599.0 1323.8 C1600.1 1324.5 1601.2 1325.2 1602.4 1326.0 C1603.5 1326.7 1604.6 1327.5 1605.7 1328.2 C1606.8 1329.0 1607.8 1329.7 1608.9 1330.5 C1610.0 1331.3 1611.1 1332.1 1612.2 1332.9 C1613.2 1333.7 1614.3 1334.5 1615.3 1335.3 C1616.4 1336.1 1617.4 1337.0 1618.5 1337.8 C1619.5 1338.6 1620.5 1339.5 1621.5 1340.4 C1622.6 1341.2 1623.6 1342.1 1624.6 1343.0 C1625.6 1343.8 1626.6 1344.7 1627.6 1345.6 C1628.5 1346.5 1629.5 1347.4 1630.5 1348.3 C1631.5 1349.3 1632.4 1350.2 1633.4 1351.1 C1634.3 1352.0 1635.3 1353.0 1636.2 1353.9 C1637.2 1354.9 1638.1 1355.8 1639.1 1356.8 C1640.0 1357.7 1640.9 1358.7 1641.8 1359.6 C1642.8 1360.6 1643.7 1361.6 1644.6 1362.5 C1645.5 1363.5 1646.4 1364.5 1647.3 1365.5 C1648.2 1366.4 1649.1 1367.4 1650.0 1368.4 C1650.9 1369.4 1651.8 1370.4 1652.7 1371.4 C1653.6 1372.4 1654.4 1373.4 1655.3 1374.4 C1656.2 1375.4 1657.1 1376.4 1657.9 1377.4 C1658.8 1378.4 1659.7 1379.5 1660.5 1380.5 C1661.4 1381.5 1662.2 1382.5 1663.1 1383.6 C1663.9 1384.6 1664.8 1385.6 1665.6 1386.7 C1666.4 1387.7 1667.3 1388.7 1668.1 1389.8 C1668.9 1390.8 1669.7 1391.9 1670.6 1392.9 C1671.4 1394.0 1672.2 1395.0 1673.0 1396.1 C1673.8 1397.2 1674.6 1398.2 1675.4 1399.3 C1676.2 1400.3 1677.0 1401.4 1677.8 1402.5 C1678.6 1403.5 1679.4 1404.6 1680.2 1405.7 C1681.0 1406.7 1681.8 1407.8 1682.6 1408.9 C1683.5 1409.9 1684.3 1411.0 1685.1 1412.1 C1685.9 1413.1 1686.7 1414.2 1687.5 1415.2 C1688.3 1416.3 1689.2 1417.3 1690.0 1418.3 C1690.8 1419.4 1691.7 1420.4 1692.5 1421.5 C1693.4 1422.5 1694.2 1423.5 1695.1 1424.5 C1695.9 1425.6 1696.8 1426.6 1697.7 1427.6 C1698.5 1428.6 1699.4 1429.6 1700.3 1430.6 C1701.2 1431.6 1702.1 1432.6 1703.0 1433.6 C1703.9 1434.6 1704.8 1435.5 1705.7 1436.5 C1706.6 1437.5 1707.5 1438.4 1708.5 1439.4 C1709.4 1440.3 1710.4 1441.3 1711.3 1442.2 C1712.3 1443.1 1713.2 1444.0 1714.2 1444.9 C1715.2 1445.8 1716.2 1446.7 1717.2 1447.6 C1718.2 1448.5 1719.2 1449.4 1720.3 1450.2 C1721.3 1451.0 1722.3 1451.9 1723.4 1452.7 C1724.5 1453.5 1725.5 1454.3 1726.6 1455.0 C1727.7 1455.8 1728.9 1456.5 1730.0 1457.2 C1731.1 1457.9 1732.3 1458.5 1733.5 1459.2 C1734.7 1459.8 1735.9 1460.4 1737.1 1460.9 C1738.3 1461.5 1739.5 1462.0 1740.8 1462.4 C1742.1 1462.8 1743.3 1463.2 1744.6 1463.5 C1745.9 1463.9 1747.2 1464.2 1748.6 1464.4 C1749.9 1464.5 1751.2 1464.6 1752.5 1464.6 C1753.9 1464.7 1755.2 1464.7 1756.5 1464.6 C1757.9 1464.6 1759.2 1464.4 1760.5 1464.1 C1761.8 1463.8 1763.1 1463.5 1764.4 1463.0 C1765.6 1462.6 1766.9 1462.1 1768.0 1461.4 C1769.2 1460.8 1770.4 1460.1 1771.5 1459.4 C1772.5 1458.6 1773.6 1457.8 1774.6 1456.9 C1775.6 1456.0 1776.5 1455.0 1777.4 1454.0 C1778.3 1453.0 1779.1 1452.0 1779.9 1450.9 C1780.7 1449.8 1781.4 1448.7 1782.2 1447.6 C1782.9 1446.5 1783.5 1445.3 1784.2 1444.1 C1784.8 1443.0 1785.5 1441.8 1786.1 1440.6 C1786.6 1439.4 1787.2 1438.2 1787.8 1437.0 C1788.3 1435.8 1788.9 1434.6 1789.4 1433.3 C1789.9 1432.1 1790.4 1430.9 1790.9 1429.6 C1791.4 1428.4 1791.9 1427.2 1792.4 1425.9 C1792.9 1424.7 1793.4 1423.4 1793.8 1422.2 C1794.3 1420.9 1794.8 1419.7 1795.2 1418.4 C1795.7 1417.2 1796.2 1415.9 1796.6 1414.7 C1797.1 1413.4 1797.5 1412.2 1798.0 1410.9 C1798.4 1409.7 1798.8 1408.4 1799.3 1407.1 C1799.7 1405.9 1800.1 1404.6 1800.5 1403.3 C1801.0 1402.1 1801.4 1400.8 1801.8 1399.5 C1802.2 1398.3 1802.6 1397.0 1803.0 1395.7 C1803.4 1394.4 1803.8 1393.2 1804.1 1391.9 C1804.5 1390.6 1804.9 1389.3 1805.3 1388.1 C1805.7 1386.8 1806.1 1385.5 1806.5 1384.2 C1806.9 1383.0 1807.2 1381.7 1807.6 1380.4 C1808.0 1379.1 1808.4 1377.9 1808.8 1376.6 C1809.2 1375.3 1809.6 1374.1 1810.0 1372.8 C1810.4 1371.5 1810.8 1370.2 1811.3 1369.0 C1811.7 1367.7 1812.1 1366.4 1812.5 1365.2 C1813.0 1363.9 1813.4 1362.7 1813.9 1361.4 C1814.3 1360.2 1814.8 1358.9 1815.2 1357.7 C1815.7 1356.4 1816.2 1355.2 1816.7 1353.9 C1817.1 1352.7 1817.6 1351.4 1818.2 1350.2 C1818.7 1349.0 1819.2 1347.7 1819.7 1346.5 C1820.3 1345.3 1820.8 1344.1 1821.4 1342.9 C1821.9 1341.7 1822.5 1340.5 1823.1 1339.3 C1823.7 1338.1 1824.3 1336.9 1825.0 1335.7 C1825.6 1334.6 1826.2 1333.4 1826.9 1332.2 C1827.6 1331.1 1828.3 1329.9 1829.0 1328.8 C1829.7 1327.7 1830.4 1326.6 1831.2 1325.5 C1831.9 1324.4 1832.7 1323.3 1833.5 1322.2 C1834.3 1321.1 1835.1 1320.1 1835.9 1319.1 C1836.8 1318.0 1837.6 1317.0 1838.5 1316.0 C1839.4 1315.0 1840.3 1314.0 1841.2 1313.1 C1842.2 1312.1 1843.1 1311.2 1844.1 1310.2 C1845.0 1309.3 1846.0 1308.4 1847.0 1307.5 C1848.0 1306.7 1849.0 1305.8 1850.1 1305.0 C1851.1 1304.1 1852.2 1303.3 1853.3 1302.5 C1854.3 1301.7 1855.4 1301.0 1856.5 1300.2 C1857.6 1299.5 1858.8 1298.8 1859.9 1298.1 C1861.1 1297.4 1862.2 1296.7 1863.4 1296.1 C1864.5 1295.4 1865.7 1294.8 1866.9 1294.2 C1868.1 1293.6 1869.3 1293.0 1870.5 1292.5 C1871.7 1292.0 1873.0 1291.4 1874.2 1290.9 C1875.4 1290.4 1876.7 1290.0 1877.9 1289.5 C1879.2 1289.1 1880.5 1288.6 1881.7 1288.2 C1883.0 1287.8 1884.3 1287.4 1885.6 1287.1 C1886.8 1286.7 1888.1 1286.4 1889.4 1286.0 C1890.7 1285.7 1892.0 1285.4 1893.3 1285.1 C1894.6 1284.8 1895.9 1284.5 1897.2 1284.3 C1898.5 1284.0 1899.9 1283.8 1901.2 1283.6 C1902.5 1283.3 1903.8 1283.1 1905.1 1282.9 C1906.4 1282.7 1907.8 1282.5 1909.1 1282.4 C1910.4 1282.2 1911.7 1282.0 1913.0 1281.9 C1914.4 1281.7 1915.7 1281.6 1917.0 1281.4 C1918.3 1281.3 1919.7 1281.1 1921.0 1281.0 C1922.3 1280.9 1923.7 1280.8 1925.0 1280.7 C1926.3 1280.6 1927.6 1280.5 1929.0 1280.4 C1930.3 1280.3 1931.6 1280.2 1933.0 1280.1 C1934.3 1280.0 1935.6 1280.0 1937.0 1279.9 C1938.3 1279.8 1939.6 1279.8 1941.0 1279.7 C1942.3 1279.7 1943.6 1279.6 1945.0 1279.5 C1946.3 1279.5 1947.6 1279.5 1949.0 1279.4 C1950.3 1279.4 1951.6 1279.3 1953.0 1279.3 C1954.3 1279.3 1955.6 1279.2 1956.9 1279.2 C1958.3 1279.2 1959.6 1279.2 1960.9 1279.1 C1962.3 1279.1 1963.6 1279.1 1964.9 1279.1 C1966.3 1279.1 1967.6 1279.1 1968.9 1279.1 C1970.3 1279.1 1971.6 1279.1 1972.9 1279.1 C1974.3 1279.1 1975.6 1279.1 1976.9 1279.1 C1978.3 1279.1 1979.6 1279.1 1980.9 1279.1 C1982.3 1279.1 1983.6 1279.1 1984.9 1279.1 C1986.3 1279.1 1987.6 1279.1 1988.9 1279.2 C1990.3 1279.2 1991.6 1279.2 1992.9 1279.2 C1994.3 1279.2 1995.6 1279.3 1996.9 1279.3 C1998.3 1279.3 1999.6 1279.4 2000.9 1279.4 C2002.3 1279.5 2003.6 1279.5 2004.9 1279.5 C2006.3 1279.6 2007.6 1279.6 2008.9 1279.7 C2010.3 1279.8 2011.6 1279.8 2012.9 1279.9 C2014.3 1279.9 2015.6 1280.0 2016.9 1280.1 C2018.3 1280.1 2019.6 1280.2 2020.9 1280.3 C2022.3 1280.4 2023.6 1280.5 2024.9 1280.6 C2026.2 1280.6 2027.6 1280.7 2028.9 1280.8 C2030.2 1280.9 2031.6 1281.0 2032.9 1281.1 C2034.2 1281.2 2035.6 1281.4 2036.9 1281.5 C2038.2 1281.6 2039.5 1281.7 2040.9 1281.8 C2042.2 1282.0 2043.5 1282.1 2044.8 1282.2 C2046.2 1282.4 2047.5 1282.5 2048.8 1282.7 C2050.1 1282.8 2051.5 1283.0 2052.8 1283.1 C2054.1 1283.3 2055.4 1283.4 2056.8 1283.6 C2058.1 1283.7 2059.4 1283.9 2060.7 1284.1 C2062.1 1284.2 2063.4 1284.4 2064.7 1284.6 C2066.0 1284.8 2067.3 1285.0 2068.7 1285.2 C2070.0 1285.3 2071.3 1285.5 2072.6 1285.7 C2073.9 1285.9 2075.3 1286.1 2076.6 1286.3 C2077.9 1286.5 2079.2 1286.7 2080.5 1286.9 C2081.9 1287.1 2083.2 1287.3 2084.5 1287.5 C2085.8 1287.7 2087.2 1287.9 2088.5 1288.1 C2089.5 1288.3 2090.6 1288.4 2091.6 1288.6"/>
</g>
<!-- legend -->
<g fill="none" stroke-width="8" stroke-linecap="butt">
<line x1="208.5" y1="281.7" x2="397" y2="281.7" stroke="#060904" stroke-width="8.2"/>
<line x1="208.5" y1="750.6" x2="397" y2="750.6" stroke="#ff4423"/>
<line x1="212.5" y1="1203" x2="402" y2="1203" stroke="#2d4089"/>
</g>
<text class="t78" transform="translate(415.2 309.9) scale(0.99 1.04)">MC-O</text>
<text class="t78" transform="translate(415.2 778.4) scale(0.99 1.04)">MC-F</text>
<text class="t78" transform="translate(418.6 1231.5) scale(0.99 1.04)">MC-P</text>
<!-- ticks -->
<g class="t78" text-anchor="middle">
<text x="306.5" y="1651">100</text>
<text x="846" y="1651">200</text>
<text x="1387.5" y="1651">300</text>
<text x="1929" y="1651">400</text>
</g>
<!-- axis titles -->
<text class="t102" x="733.0" y="1785" letter-spacing="-0.5">Temperature (<tspan font-size="68" dy="-42" letter-spacing="0">o</tspan><tspan dy="42" dx="0.5">C)</tspan></text>
<text class="t102" transform="translate(132.2 1134.5) rotate(-90)" textLength="755" lengthAdjust="spacingAndGlyphs">Heat Flow (W/g)</text>
</svg>
</body>
</html>
